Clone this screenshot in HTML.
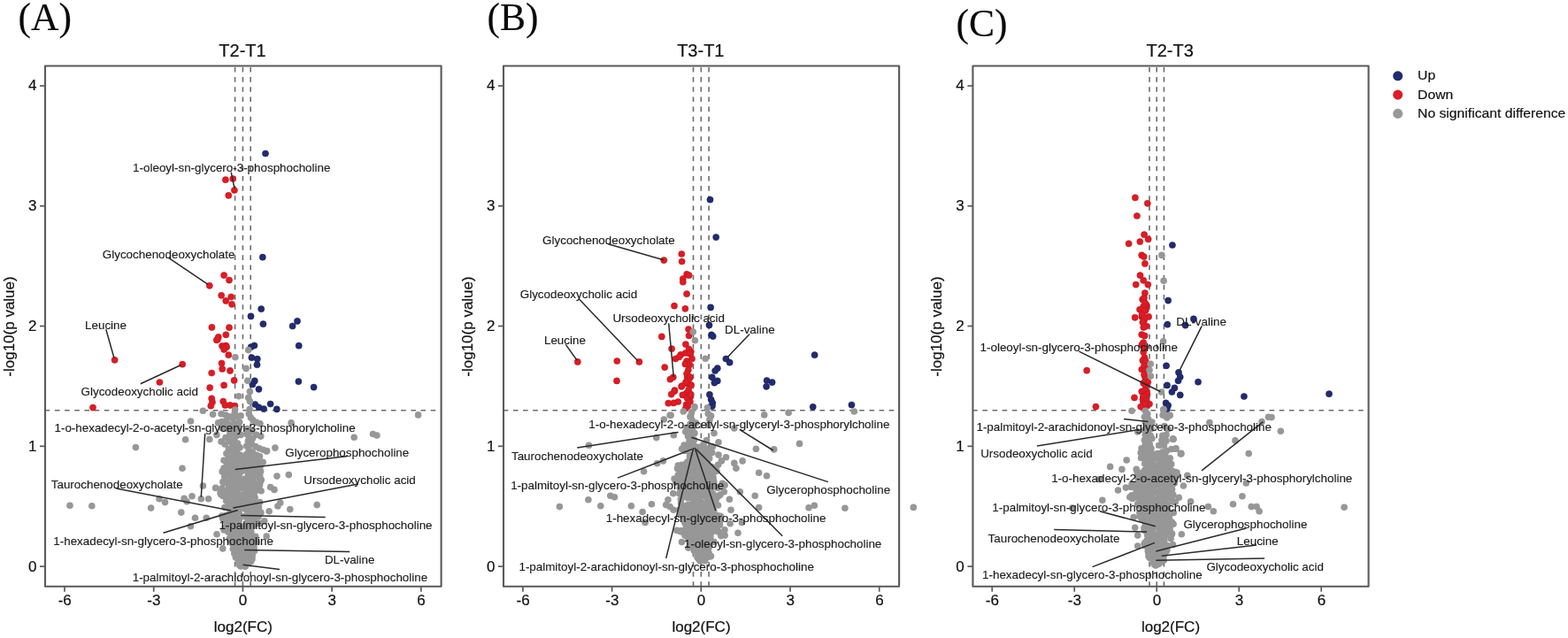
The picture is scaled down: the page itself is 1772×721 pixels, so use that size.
<!DOCTYPE html>
<html lang="en"><head><meta charset="utf-8"><title>Volcano plots</title>
<style>
html,body{margin:0;padding:0;background:#fff}
body{width:1772px;height:721px}
svg{display:block}
text{font-family:"Liberation Sans",sans-serif;fill:#1a1a1a;stroke:#1a1a1a;stroke-width:0.22px;stroke-linejoin:round}
.pl{font-family:"Liberation Serif",serif;font-size:43.5px;fill:#0a0a0a;stroke-width:0.15px}
.tt{font-size:20px;text-anchor:middle;fill:#111}
.ax{font-size:17px;text-anchor:middle;fill:#111}
.tk{font-size:17px;fill:#111}
.lb{font-size:13.4px;fill:#1c1c1c;stroke:#1c1c1c;stroke-width:0.14px}
.lg{font-size:15.7px;fill:#111}
.g circle{fill:#979797}.r circle{fill:#d81e26;stroke:#c70f1a;stroke-width:.5}.b circle{fill:#222c6e;stroke:#161e58;stroke-width:.5}
.d line{stroke:#6c6c6c;stroke-width:1.6;stroke-dasharray:5.6 5.58;fill:none}
.s line{stroke:#2a2a2a;stroke-width:1.5}
.fr{fill:none;stroke:#5a5a5a;stroke-width:2.1;stroke-linejoin:round}
.t line{stroke:#5a5a5a;stroke-width:1.7}
</style></head><body>
<svg width="1772" height="721" viewBox="0 0 1772 721" role="img" aria-label="Volcano plots T2-T1, T3-T1, T2-T3">
<rect width="1772" height="721" fill="#fff"/>
<g>
<text class="pl" x="20.6" y="34.4">(A)</text>
<text class="tt" x="274" y="63.9">T2-T1</text>
<g class="d">
<line x1="265.6" y1="75.9" x2="265.6" y2="662.7"/>
<line x1="274.4" y1="75.9" x2="274.4" y2="662.7"/>
<line x1="283.2" y1="75.9" x2="283.2" y2="662.7"/>
<line x1="50.7" y1="463.7" x2="498.6" y2="463.7"/>
</g>
<line x1="274.4" y1="476" x2="274.4" y2="612" stroke="#fff" stroke-width="2.4"/>
<g class="b">
<circle cx="300" cy="173.5" r="3.6"/><circle cx="296.8" cy="290.7" r="3.6"/><circle cx="295.2" cy="349.2" r="3.6"/><circle cx="283.5" cy="357.4" r="3.6"/><circle cx="297.4" cy="366.2" r="3.6"/><circle cx="336" cy="362.9" r="3.6"/><circle cx="330.6" cy="368.5" r="3.6"/><circle cx="287.4" cy="390.5" r="3.6"/><circle cx="283.7" cy="392.2" r="3.6"/><circle cx="337.7" cy="390.7" r="3.6"/><circle cx="284.4" cy="404.2" r="3.6"/><circle cx="290.8" cy="405.7" r="3.6"/><circle cx="290.5" cy="412.2" r="3.6"/><circle cx="287.8" cy="430.4" r="3.6"/><circle cx="285.4" cy="434.5" r="3.6"/><circle cx="292.5" cy="439.8" r="3.6"/><circle cx="337.4" cy="431.1" r="3.6"/><circle cx="354.6" cy="437.6" r="3.6"/><circle cx="288.3" cy="457" r="3.6"/><circle cx="292.5" cy="460.4" r="3.6"/><circle cx="298.1" cy="462.1" r="3.6"/><circle cx="305.6" cy="456.5" r="3.6"/><circle cx="312.8" cy="462.4" r="3.6"/>
</g>
<g class="r">
<circle cx="254.9" cy="203.2" r="3.6"/><circle cx="263.2" cy="202" r="3.6"/><circle cx="264.9" cy="215" r="3.6"/><circle cx="258.3" cy="220.9" r="3.6"/><circle cx="253.1" cy="311.1" r="3.6"/><circle cx="259" cy="316.6" r="3.6"/><circle cx="236.8" cy="322.8" r="3.6"/><circle cx="250.2" cy="333.8" r="3.6"/><circle cx="261.2" cy="335.5" r="3.6"/><circle cx="255.3" cy="339.9" r="3.6"/><circle cx="262" cy="343.8" r="3.6"/><circle cx="239.4" cy="369.9" r="3.6"/><circle cx="259" cy="370.2" r="3.6"/><circle cx="255.3" cy="378.3" r="3.6"/><circle cx="246.8" cy="380.9" r="3.6"/><circle cx="244.8" cy="384.3" r="3.6"/><circle cx="251" cy="391" r="3.6"/><circle cx="255.3" cy="390.5" r="3.6"/><circle cx="129.6" cy="406.8" r="3.6"/><circle cx="206.2" cy="411.7" r="3.6"/><circle cx="180.4" cy="432" r="3.6"/><circle cx="246" cy="383.4" r="3.6"/><circle cx="252.7" cy="391.9" r="3.6"/><circle cx="256.1" cy="392.2" r="3.6"/><circle cx="253.2" cy="394.9" r="3.6"/><circle cx="258.3" cy="401.2" r="3.6"/><circle cx="250.5" cy="410.5" r="3.6"/><circle cx="251.2" cy="416.9" r="3.6"/><circle cx="260" cy="418.9" r="3.6"/><circle cx="239.2" cy="421.5" r="3.6"/><circle cx="264.6" cy="429.9" r="3.6"/><circle cx="253.1" cy="435.4" r="3.6"/><circle cx="237.2" cy="438.1" r="3.6"/><circle cx="239.2" cy="450.3" r="3.6"/><circle cx="240" cy="454.5" r="3.6"/><circle cx="238.3" cy="458.7" r="3.6"/><circle cx="252.2" cy="453.6" r="3.6"/><circle cx="254.4" cy="457.9" r="3.6"/><circle cx="260" cy="457.9" r="3.6"/><circle cx="265.4" cy="458.7" r="3.6"/><circle cx="105" cy="460.6" r="3.6"/>
</g>
<g class="g">
<circle cx="259.5" cy="571.5" r="3.8"/><circle cx="284.9" cy="614.7" r="3.8"/><circle cx="281.5" cy="602.1" r="3.8"/><circle cx="275.4" cy="636.5" r="3.8"/><circle cx="259.5" cy="581.1" r="3.8"/><circle cx="265.4" cy="579.9" r="3.8"/><circle cx="262.8" cy="549.3" r="3.8"/><circle cx="276" cy="620.7" r="3.8"/><circle cx="283.1" cy="522.9" r="3.8"/><circle cx="275.6" cy="621.5" r="3.8"/><circle cx="273.6" cy="564.5" r="3.8"/><circle cx="264.2" cy="556.2" r="3.8"/><circle cx="253" cy="529" r="3.8"/><circle cx="270.8" cy="615.2" r="3.8"/><circle cx="275.4" cy="607" r="3.8"/><circle cx="270.5" cy="528.8" r="3.8"/><circle cx="276.5" cy="616" r="3.8"/><circle cx="287.6" cy="622.5" r="3.8"/><circle cx="283.7" cy="541.1" r="3.8"/><circle cx="253.2" cy="555.8" r="3.8"/><circle cx="264.4" cy="588" r="3.8"/><circle cx="277.9" cy="635.8" r="3.8"/><circle cx="285.4" cy="624" r="3.8"/><circle cx="281.7" cy="617.9" r="3.8"/><circle cx="279.6" cy="633.4" r="3.8"/><circle cx="293.7" cy="567.5" r="3.8"/><circle cx="263.4" cy="544.3" r="3.8"/><circle cx="279.5" cy="618.6" r="3.8"/><circle cx="289.5" cy="522.7" r="3.8"/><circle cx="278.8" cy="622.3" r="3.8"/><circle cx="271.1" cy="516.1" r="3.8"/><circle cx="280.5" cy="536.4" r="3.8"/><circle cx="278.9" cy="597.4" r="3.8"/><circle cx="293.6" cy="531.8" r="3.8"/><circle cx="265.1" cy="523.6" r="3.8"/><circle cx="278.5" cy="628.3" r="3.8"/><circle cx="249.7" cy="558.7" r="3.8"/><circle cx="280.1" cy="624.6" r="3.8"/><circle cx="262.8" cy="593.4" r="3.8"/><circle cx="292.1" cy="591.3" r="3.8"/><circle cx="283.7" cy="569.9" r="3.8"/><circle cx="276.5" cy="517.8" r="3.8"/><circle cx="287.9" cy="577.2" r="3.8"/><circle cx="269.9" cy="546.5" r="3.8"/><circle cx="267.2" cy="535.5" r="3.8"/><circle cx="268.3" cy="570.1" r="3.8"/><circle cx="265.9" cy="568.7" r="3.8"/><circle cx="274.3" cy="625.8" r="3.8"/><circle cx="274.4" cy="634.7" r="3.8"/><circle cx="264.1" cy="548.9" r="3.8"/><circle cx="263.8" cy="554.1" r="3.8"/><circle cx="289.4" cy="571.5" r="3.8"/><circle cx="267.7" cy="519.3" r="3.8"/><circle cx="291.5" cy="516.4" r="3.8"/><circle cx="279.3" cy="544.2" r="3.8"/><circle cx="281.3" cy="570.7" r="3.8"/><circle cx="270.5" cy="629.1" r="3.8"/><circle cx="261.3" cy="605.7" r="3.8"/><circle cx="255.8" cy="561.9" r="3.8"/><circle cx="268.4" cy="572.9" r="3.8"/><circle cx="255.2" cy="595.5" r="3.8"/><circle cx="272.4" cy="638.1" r="3.8"/><circle cx="274" cy="622.7" r="3.8"/><circle cx="292.1" cy="583.9" r="3.8"/><circle cx="288.4" cy="517.6" r="3.8"/><circle cx="277.1" cy="605.9" r="3.8"/><circle cx="277.8" cy="634.1" r="3.8"/><circle cx="267.6" cy="580.4" r="3.8"/><circle cx="283.1" cy="540.4" r="3.8"/><circle cx="259.4" cy="580.6" r="3.8"/><circle cx="269.5" cy="590.9" r="3.8"/><circle cx="260.2" cy="579.5" r="3.8"/><circle cx="269.2" cy="601.8" r="3.8"/><circle cx="270.6" cy="566.5" r="3.8"/><circle cx="283.8" cy="569.1" r="3.8"/><circle cx="259.3" cy="530.4" r="3.8"/><circle cx="264.1" cy="542.9" r="3.8"/><circle cx="285.2" cy="539.1" r="3.8"/><circle cx="276.1" cy="561.7" r="3.8"/><circle cx="277.7" cy="594.2" r="3.8"/><circle cx="276.5" cy="622.1" r="3.8"/><circle cx="289.8" cy="554.1" r="3.8"/><circle cx="278.6" cy="541.7" r="3.8"/><circle cx="285.3" cy="606.3" r="3.8"/><circle cx="267.4" cy="567.5" r="3.8"/><circle cx="277.8" cy="601" r="3.8"/><circle cx="275.2" cy="637" r="3.8"/><circle cx="257.7" cy="601.1" r="3.8"/><circle cx="262.1" cy="518.8" r="3.8"/><circle cx="258.5" cy="586.2" r="3.8"/><circle cx="285" cy="631.7" r="3.8"/><circle cx="259.3" cy="572.7" r="3.8"/><circle cx="281.4" cy="568.6" r="3.8"/><circle cx="276.8" cy="621.2" r="3.8"/><circle cx="262.5" cy="607.9" r="3.8"/><circle cx="258.2" cy="593.9" r="3.8"/><circle cx="289.7" cy="612.8" r="3.8"/><circle cx="276.4" cy="627.9" r="3.8"/><circle cx="264.6" cy="565.5" r="3.8"/><circle cx="253.9" cy="573.5" r="3.8"/><circle cx="285.5" cy="595.1" r="3.8"/><circle cx="267.1" cy="556.9" r="3.8"/><circle cx="261.4" cy="581.7" r="3.8"/><circle cx="262" cy="516.9" r="3.8"/><circle cx="258.6" cy="546.6" r="3.8"/><circle cx="283.3" cy="561.7" r="3.8"/><circle cx="264.1" cy="578.5" r="3.8"/><circle cx="275.1" cy="616.8" r="3.8"/><circle cx="274.1" cy="632.1" r="3.8"/><circle cx="283" cy="535.5" r="3.8"/><circle cx="266.2" cy="567.4" r="3.8"/><circle cx="278.2" cy="597.2" r="3.8"/><circle cx="264.3" cy="605" r="3.8"/><circle cx="257.2" cy="519.4" r="3.8"/><circle cx="284.2" cy="609" r="3.8"/><circle cx="271.1" cy="633.9" r="3.8"/><circle cx="276.4" cy="637.6" r="3.8"/><circle cx="283.4" cy="633" r="3.8"/><circle cx="269.7" cy="590.7" r="3.8"/><circle cx="273.1" cy="571.9" r="3.8"/><circle cx="283.6" cy="612.8" r="3.8"/><circle cx="281.2" cy="635" r="3.8"/><circle cx="284" cy="613.6" r="3.8"/><circle cx="260.3" cy="548.5" r="3.8"/><circle cx="268.5" cy="609.7" r="3.8"/><circle cx="270.1" cy="625.6" r="3.8"/><circle cx="273.9" cy="568" r="3.8"/><circle cx="267.2" cy="525" r="3.8"/><circle cx="264.2" cy="574.8" r="3.8"/><circle cx="261.3" cy="608.6" r="3.8"/><circle cx="276.5" cy="616.8" r="3.8"/><circle cx="283.9" cy="546.8" r="3.8"/><circle cx="282.3" cy="555.3" r="3.8"/><circle cx="266.9" cy="560.9" r="3.8"/><circle cx="258.2" cy="524" r="3.8"/><circle cx="259.2" cy="552" r="3.8"/><circle cx="267.7" cy="602.1" r="3.8"/><circle cx="281" cy="606.2" r="3.8"/><circle cx="281.1" cy="586.3" r="3.8"/><circle cx="271.3" cy="616" r="3.8"/><circle cx="282.3" cy="560.1" r="3.8"/><circle cx="253.7" cy="538.8" r="3.8"/><circle cx="266.9" cy="585.5" r="3.8"/><circle cx="275.9" cy="625.9" r="3.8"/><circle cx="260.8" cy="583.1" r="3.8"/><circle cx="258.8" cy="522.1" r="3.8"/><circle cx="277.9" cy="524.7" r="3.8"/><circle cx="269.9" cy="594.5" r="3.8"/><circle cx="259.4" cy="564.1" r="3.8"/><circle cx="255.7" cy="566.1" r="3.8"/><circle cx="286.3" cy="622.4" r="3.8"/><circle cx="257.1" cy="595.3" r="3.8"/><circle cx="281.3" cy="615.9" r="3.8"/><circle cx="272.1" cy="639.9" r="3.8"/><circle cx="285.8" cy="568" r="3.8"/><circle cx="281.4" cy="521.5" r="3.8"/><circle cx="268.6" cy="629.5" r="3.8"/><circle cx="267" cy="541.6" r="3.8"/><circle cx="285.8" cy="537.5" r="3.8"/><circle cx="268.4" cy="553.6" r="3.8"/><circle cx="280" cy="574.9" r="3.8"/><circle cx="266.9" cy="583.5" r="3.8"/><circle cx="261.6" cy="579.5" r="3.8"/><circle cx="276.9" cy="615.2" r="3.8"/><circle cx="277.7" cy="554.9" r="3.8"/><circle cx="270.2" cy="579.5" r="3.8"/><circle cx="289.2" cy="533.1" r="3.8"/><circle cx="269.6" cy="621.5" r="3.8"/><circle cx="283.5" cy="605" r="3.8"/><circle cx="287.4" cy="567" r="3.8"/><circle cx="266.3" cy="540.5" r="3.8"/><circle cx="293.9" cy="527.4" r="3.8"/><circle cx="268.8" cy="597" r="3.8"/><circle cx="275.1" cy="615.5" r="3.8"/><circle cx="269.9" cy="550.9" r="3.8"/><circle cx="281.3" cy="563.8" r="3.8"/><circle cx="286.4" cy="539.4" r="3.8"/><circle cx="270.2" cy="605.9" r="3.8"/><circle cx="282.7" cy="525.7" r="3.8"/><circle cx="279.1" cy="604" r="3.8"/><circle cx="256.4" cy="525.4" r="3.8"/><circle cx="260" cy="565.7" r="3.8"/><circle cx="267.8" cy="556.1" r="3.8"/><circle cx="262.4" cy="614.3" r="3.8"/><circle cx="267.5" cy="578.7" r="3.8"/><circle cx="282.2" cy="591.7" r="3.8"/><circle cx="282.4" cy="558.8" r="3.8"/><circle cx="273.3" cy="639.3" r="3.8"/><circle cx="272.6" cy="620.1" r="3.8"/><circle cx="269.2" cy="524.6" r="3.8"/><circle cx="267.1" cy="602.5" r="3.8"/><circle cx="293.4" cy="529.8" r="3.8"/><circle cx="280.5" cy="583" r="3.8"/><circle cx="278.9" cy="547.6" r="3.8"/><circle cx="260.7" cy="529.6" r="3.8"/><circle cx="277.1" cy="627.9" r="3.8"/><circle cx="257" cy="583.6" r="3.8"/><circle cx="267.3" cy="597.6" r="3.8"/><circle cx="274.3" cy="607.7" r="3.8"/><circle cx="270" cy="573.4" r="3.8"/><circle cx="270.7" cy="586.3" r="3.8"/><circle cx="280.5" cy="556.2" r="3.8"/><circle cx="287.8" cy="532.4" r="3.8"/><circle cx="265.1" cy="573.7" r="3.8"/><circle cx="262.6" cy="609.5" r="3.8"/><circle cx="268.4" cy="620.5" r="3.8"/><circle cx="278.1" cy="629" r="3.8"/><circle cx="288" cy="568.9" r="3.8"/><circle cx="278.2" cy="628.3" r="3.8"/><circle cx="277.6" cy="609.5" r="3.8"/><circle cx="274.2" cy="570.8" r="3.8"/><circle cx="270.1" cy="602.3" r="3.8"/><circle cx="283.2" cy="544" r="3.8"/><circle cx="269.9" cy="636.7" r="3.8"/><circle cx="282.4" cy="542.2" r="3.8"/><circle cx="279.9" cy="628.7" r="3.8"/><circle cx="278.6" cy="634.8" r="3.8"/><circle cx="291.3" cy="552" r="3.8"/><circle cx="273.4" cy="617.6" r="3.8"/><circle cx="274.7" cy="628.1" r="3.8"/><circle cx="291.7" cy="574" r="3.8"/><circle cx="262.8" cy="538.8" r="3.8"/><circle cx="278.8" cy="574" r="3.8"/><circle cx="272.1" cy="594.3" r="3.8"/><circle cx="291.7" cy="527.5" r="3.8"/><circle cx="263.8" cy="604.6" r="3.8"/><circle cx="270" cy="633.1" r="3.8"/><circle cx="257.6" cy="553" r="3.8"/><circle cx="262.2" cy="543.9" r="3.8"/><circle cx="281" cy="626.3" r="3.8"/><circle cx="270.1" cy="552.2" r="3.8"/><circle cx="289.3" cy="525.4" r="3.8"/><circle cx="262.9" cy="545.9" r="3.8"/><circle cx="269.7" cy="610" r="3.8"/><circle cx="276.7" cy="632" r="3.8"/><circle cx="268.7" cy="621.4" r="3.8"/><circle cx="277.9" cy="634.8" r="3.8"/><circle cx="285.8" cy="543.9" r="3.8"/><circle cx="269.9" cy="613.9" r="3.8"/><circle cx="256.3" cy="586.7" r="3.8"/><circle cx="292.2" cy="547.4" r="3.8"/><circle cx="280.4" cy="519.4" r="3.8"/><circle cx="288.1" cy="580.7" r="3.8"/><circle cx="282.8" cy="535.8" r="3.8"/><circle cx="272.9" cy="619.5" r="3.8"/><circle cx="282.6" cy="560.3" r="3.8"/><circle cx="280.4" cy="519.3" r="3.8"/><circle cx="259.6" cy="571.8" r="3.8"/><circle cx="275.2" cy="627" r="3.8"/><circle cx="250.7" cy="551.9" r="3.8"/><circle cx="268.4" cy="607.2" r="3.8"/><circle cx="269.3" cy="572.6" r="3.8"/><circle cx="282.8" cy="556.8" r="3.8"/><circle cx="270.2" cy="623.8" r="3.8"/><circle cx="276.7" cy="621.1" r="3.8"/><circle cx="275.7" cy="541.4" r="3.8"/><circle cx="269.2" cy="539.9" r="3.8"/><circle cx="281.1" cy="623.6" r="3.8"/><circle cx="274" cy="523.2" r="3.8"/><circle cx="293.6" cy="548.1" r="3.8"/><circle cx="271.2" cy="611.9" r="3.8"/><circle cx="277.7" cy="544.3" r="3.8"/><circle cx="283.5" cy="553.7" r="3.8"/><circle cx="285.6" cy="547.1" r="3.8"/><circle cx="271.3" cy="532.7" r="3.8"/><circle cx="261.7" cy="563.1" r="3.8"/><circle cx="294" cy="541.5" r="3.8"/><circle cx="269.7" cy="543.8" r="3.8"/><circle cx="266.2" cy="563.8" r="3.8"/><circle cx="278.3" cy="555.7" r="3.8"/><circle cx="280.7" cy="574.4" r="3.8"/><circle cx="267.7" cy="544.5" r="3.8"/><circle cx="284.2" cy="516.9" r="3.8"/><circle cx="278.6" cy="520.9" r="3.8"/><circle cx="281.4" cy="573.6" r="3.8"/><circle cx="276.2" cy="627.3" r="3.8"/><circle cx="255.7" cy="598.8" r="3.8"/><circle cx="254.9" cy="560.1" r="3.8"/><circle cx="268.4" cy="612" r="3.8"/><circle cx="275.7" cy="629.5" r="3.8"/><circle cx="274.6" cy="600.4" r="3.8"/><circle cx="277.7" cy="564" r="3.8"/><circle cx="256.1" cy="596.6" r="3.8"/><circle cx="272.8" cy="637" r="3.8"/><circle cx="272.8" cy="626.6" r="3.8"/><circle cx="258.3" cy="534.3" r="3.8"/><circle cx="273.7" cy="545.7" r="3.8"/><circle cx="284.1" cy="522" r="3.8"/><circle cx="260.8" cy="528.3" r="3.8"/><circle cx="269" cy="578.4" r="3.8"/><circle cx="270.1" cy="604.9" r="3.8"/><circle cx="280" cy="610.4" r="3.8"/><circle cx="258.2" cy="586.1" r="3.8"/><circle cx="266.4" cy="615.8" r="3.8"/><circle cx="253.1" cy="599" r="3.8"/><circle cx="282.1" cy="588.4" r="3.8"/><circle cx="284" cy="567.3" r="3.8"/><circle cx="253" cy="520.2" r="3.8"/><circle cx="279.7" cy="550.3" r="3.8"/><circle cx="280.9" cy="517.4" r="3.8"/><circle cx="276.8" cy="561.4" r="3.8"/><circle cx="264.8" cy="563.7" r="3.8"/><circle cx="270.5" cy="638.6" r="3.8"/><circle cx="294.6" cy="532.7" r="3.8"/><circle cx="264.7" cy="545.9" r="3.8"/><circle cx="280.2" cy="516.4" r="3.8"/><circle cx="267.4" cy="548.8" r="3.8"/><circle cx="251.8" cy="560.5" r="3.8"/><circle cx="268.2" cy="627.4" r="3.8"/><circle cx="279.9" cy="575.4" r="3.8"/><circle cx="263" cy="566.7" r="3.8"/><circle cx="268.3" cy="521.3" r="3.8"/><circle cx="272.9" cy="633.2" r="3.8"/><circle cx="273" cy="570.3" r="3.8"/><circle cx="259" cy="553.4" r="3.8"/><circle cx="277.4" cy="635.8" r="3.8"/><circle cx="261.1" cy="607.4" r="3.8"/><circle cx="287.1" cy="619.1" r="3.8"/><circle cx="287.4" cy="565.1" r="3.8"/><circle cx="276.2" cy="629.5" r="3.8"/><circle cx="282.6" cy="560.9" r="3.8"/><circle cx="268.1" cy="560.3" r="3.8"/><circle cx="295.1" cy="554.8" r="3.8"/><circle cx="263" cy="608.2" r="3.8"/><circle cx="266.5" cy="536.5" r="3.8"/><circle cx="267.4" cy="568.7" r="3.8"/><circle cx="278.9" cy="565.2" r="3.8"/><circle cx="274.4" cy="625.8" r="3.8"/><circle cx="281.5" cy="527.8" r="3.8"/><circle cx="261.4" cy="565.8" r="3.8"/><circle cx="269.2" cy="532.8" r="3.8"/><circle cx="266.9" cy="592.3" r="3.8"/><circle cx="286" cy="593.8" r="3.8"/><circle cx="283.8" cy="601.6" r="3.8"/><circle cx="260.9" cy="567.3" r="3.8"/><circle cx="263.4" cy="579.4" r="3.8"/><circle cx="271.5" cy="624.2" r="3.8"/><circle cx="275.6" cy="620.7" r="3.8"/><circle cx="277.4" cy="619.3" r="3.8"/><circle cx="275.4" cy="624.5" r="3.8"/><circle cx="277.7" cy="616.5" r="3.8"/><circle cx="266.4" cy="576.3" r="3.8"/><circle cx="283.8" cy="622.6" r="3.8"/><circle cx="251.6" cy="533.3" r="3.8"/><circle cx="261.8" cy="557.9" r="3.8"/><circle cx="282.8" cy="528.9" r="3.8"/><circle cx="269.8" cy="628.5" r="3.8"/><circle cx="265" cy="568.7" r="3.8"/><circle cx="259.6" cy="554" r="3.8"/><circle cx="263.6" cy="536.9" r="3.8"/><circle cx="292.5" cy="573.2" r="3.8"/><circle cx="293.5" cy="591.5" r="3.8"/><circle cx="269.8" cy="601.8" r="3.8"/><circle cx="284.1" cy="532.6" r="3.8"/><circle cx="274.5" cy="618.2" r="3.8"/><circle cx="264.8" cy="558" r="3.8"/><circle cx="273.4" cy="624.8" r="3.8"/><circle cx="261.6" cy="599.9" r="3.8"/><circle cx="268.6" cy="590.4" r="3.8"/><circle cx="284.2" cy="549.7" r="3.8"/><circle cx="273.1" cy="551.2" r="3.8"/><circle cx="280.8" cy="627.7" r="3.8"/><circle cx="261.2" cy="557.4" r="3.8"/><circle cx="267.7" cy="526.6" r="3.8"/><circle cx="265.1" cy="561.6" r="3.8"/><circle cx="287.2" cy="557.7" r="3.8"/><circle cx="268.5" cy="599.2" r="3.8"/><circle cx="261" cy="564.2" r="3.8"/><circle cx="268.4" cy="540.6" r="3.8"/><circle cx="279" cy="608.2" r="3.8"/><circle cx="266.6" cy="593.1" r="3.8"/><circle cx="280.2" cy="617" r="3.8"/><circle cx="282.5" cy="517.1" r="3.8"/><circle cx="267.6" cy="581.8" r="3.8"/><circle cx="254.3" cy="529.8" r="3.8"/><circle cx="283.5" cy="579" r="3.8"/><circle cx="259.7" cy="545.3" r="3.8"/><circle cx="269.7" cy="533.7" r="3.8"/><circle cx="282.7" cy="565.6" r="3.8"/><circle cx="277.3" cy="604.5" r="3.8"/><circle cx="263.3" cy="519.9" r="3.8"/><circle cx="258.5" cy="528.2" r="3.8"/><circle cx="265.1" cy="552" r="3.8"/><circle cx="280" cy="574.6" r="3.8"/><circle cx="283.8" cy="571.3" r="3.8"/><circle cx="276.5" cy="583.5" r="3.8"/><circle cx="291.4" cy="515.1" r="3.8"/><circle cx="265.4" cy="514.9" r="3.8"/><circle cx="282.9" cy="560.8" r="3.8"/><circle cx="255.5" cy="588.9" r="3.8"/><circle cx="270.4" cy="615" r="3.8"/><circle cx="277" cy="600.3" r="3.8"/><circle cx="279.7" cy="619.6" r="3.8"/><circle cx="257.3" cy="595.6" r="3.8"/><circle cx="288" cy="520.1" r="3.8"/><circle cx="281.9" cy="609.6" r="3.8"/><circle cx="265.4" cy="567.1" r="3.8"/><circle cx="267.9" cy="630.4" r="3.8"/><circle cx="278.7" cy="562" r="3.8"/><circle cx="278.9" cy="529" r="3.8"/><circle cx="276.6" cy="619.9" r="3.8"/><circle cx="287.3" cy="528.4" r="3.8"/><circle cx="273.7" cy="631.1" r="3.8"/><circle cx="288.9" cy="582.1" r="3.8"/><circle cx="260.4" cy="574" r="3.8"/><circle cx="280.4" cy="631.9" r="3.8"/><circle cx="283.6" cy="563.3" r="3.8"/><circle cx="270" cy="535.1" r="3.8"/><circle cx="277.6" cy="558.4" r="3.8"/><circle cx="263.4" cy="563.3" r="3.8"/><circle cx="282.6" cy="575" r="3.8"/><circle cx="260.6" cy="522.2" r="3.8"/><circle cx="265.4" cy="605" r="3.8"/><circle cx="276.5" cy="629.5" r="3.8"/><circle cx="292" cy="527" r="3.8"/><circle cx="265.6" cy="518.5" r="3.8"/><circle cx="270.7" cy="533.2" r="3.8"/><circle cx="275.8" cy="616.3" r="3.8"/><circle cx="283.9" cy="581.9" r="3.8"/><circle cx="267" cy="560.2" r="3.8"/><circle cx="288.8" cy="606.3" r="3.8"/><circle cx="272.4" cy="516.6" r="3.8"/><circle cx="279.5" cy="575.6" r="3.8"/><circle cx="284.1" cy="549.3" r="3.8"/><circle cx="284.8" cy="622.6" r="3.8"/><circle cx="285.5" cy="607.2" r="3.8"/><circle cx="264" cy="547" r="3.8"/><circle cx="262.6" cy="560.1" r="3.8"/><circle cx="274.4" cy="634.6" r="3.8"/><circle cx="273.9" cy="628.5" r="3.8"/><circle cx="269.5" cy="601" r="3.8"/><circle cx="261" cy="577.4" r="3.8"/><circle cx="280.4" cy="524" r="3.8"/><circle cx="272.4" cy="637.5" r="3.8"/><circle cx="268.6" cy="556.6" r="3.8"/><circle cx="281" cy="631.5" r="3.8"/><circle cx="276.6" cy="632.5" r="3.8"/><circle cx="273.4" cy="528.2" r="3.8"/><circle cx="260.9" cy="518.1" r="3.8"/><circle cx="260.3" cy="610.2" r="3.8"/><circle cx="274.3" cy="619.8" r="3.8"/><circle cx="286.4" cy="556.6" r="3.8"/><circle cx="256.6" cy="543.8" r="3.8"/><circle cx="269.1" cy="546.2" r="3.8"/><circle cx="278.4" cy="597.1" r="3.8"/><circle cx="260.3" cy="546.4" r="3.8"/><circle cx="264.1" cy="552.3" r="3.8"/><circle cx="255.3" cy="582.6" r="3.8"/><circle cx="283.3" cy="545" r="3.8"/><circle cx="263.9" cy="531.2" r="3.8"/><circle cx="288.1" cy="562.2" r="3.8"/><circle cx="282.8" cy="608.2" r="3.8"/><circle cx="273.3" cy="562.3" r="3.8"/><circle cx="282.3" cy="540.1" r="3.8"/><circle cx="273.7" cy="632.2" r="3.8"/><circle cx="278.5" cy="634.1" r="3.8"/><circle cx="270.6" cy="626.1" r="3.8"/><circle cx="277" cy="529.3" r="3.8"/><circle cx="264.3" cy="537.5" r="3.8"/><circle cx="260.1" cy="537.2" r="3.8"/><circle cx="272" cy="610.8" r="3.8"/><circle cx="265.2" cy="524.3" r="3.8"/><circle cx="263.6" cy="578" r="3.8"/><circle cx="268.1" cy="572.4" r="3.8"/><circle cx="256.7" cy="564.9" r="3.8"/><circle cx="264.3" cy="607.5" r="3.8"/><circle cx="274.6" cy="615.5" r="3.8"/><circle cx="262.6" cy="573.1" r="3.8"/><circle cx="266.4" cy="519.3" r="3.8"/><circle cx="280.2" cy="593.2" r="3.8"/><circle cx="269.9" cy="626.3" r="3.8"/><circle cx="275.7" cy="622.3" r="3.8"/><circle cx="277.4" cy="639" r="3.8"/><circle cx="294.4" cy="543.9" r="3.8"/><circle cx="265" cy="550.1" r="3.8"/><circle cx="282.7" cy="577.1" r="3.8"/><circle cx="285.5" cy="572.7" r="3.8"/><circle cx="269.5" cy="575.2" r="3.8"/><circle cx="285.6" cy="524.7" r="3.8"/><circle cx="281" cy="619.3" r="3.8"/><circle cx="264.8" cy="568.1" r="3.8"/><circle cx="278.4" cy="576.2" r="3.8"/><circle cx="261.9" cy="557.5" r="3.8"/><circle cx="283.1" cy="619.9" r="3.8"/><circle cx="269.9" cy="615.3" r="3.8"/><circle cx="281.8" cy="516.9" r="3.8"/><circle cx="283.4" cy="614.6" r="3.8"/><circle cx="297.2" cy="522.2" r="3.8"/><circle cx="280.1" cy="624.7" r="3.8"/><circle cx="266.6" cy="593.1" r="3.8"/><circle cx="279.2" cy="521.4" r="3.8"/><circle cx="251.8" cy="586.3" r="3.8"/><circle cx="280.9" cy="633.7" r="3.8"/><circle cx="266.3" cy="629.8" r="3.8"/><circle cx="262.4" cy="612.3" r="3.8"/><circle cx="288.5" cy="580.4" r="3.8"/><circle cx="251.9" cy="544.6" r="3.8"/><circle cx="279.4" cy="559.1" r="3.8"/><circle cx="286.2" cy="529.5" r="3.8"/><circle cx="288.6" cy="610.8" r="3.8"/><circle cx="264.4" cy="545.9" r="3.8"/><circle cx="267.2" cy="611.4" r="3.8"/><circle cx="270.6" cy="521.1" r="3.8"/><circle cx="261.3" cy="568.1" r="3.8"/><circle cx="271.8" cy="530.3" r="3.8"/><circle cx="295.1" cy="523.3" r="3.8"/><circle cx="284.1" cy="622.2" r="3.8"/><circle cx="263.3" cy="554.1" r="3.8"/><circle cx="264.2" cy="542.1" r="3.8"/><circle cx="278.3" cy="626.7" r="3.8"/><circle cx="265" cy="603.9" r="3.8"/><circle cx="280.1" cy="612.1" r="3.8"/><circle cx="264.2" cy="561.8" r="3.8"/><circle cx="274.4" cy="613.8" r="3.8"/><circle cx="264.7" cy="597.3" r="3.8"/><circle cx="266.1" cy="597" r="3.8"/><circle cx="268.5" cy="557.4" r="3.8"/><circle cx="275.7" cy="611.3" r="3.8"/><circle cx="277.1" cy="640.2" r="3.8"/><circle cx="279.9" cy="521.6" r="3.8"/><circle cx="263.6" cy="589" r="3.8"/><circle cx="271.4" cy="608.8" r="3.8"/><circle cx="260.6" cy="531.3" r="3.8"/><circle cx="266.4" cy="548.9" r="3.8"/><circle cx="277.9" cy="616.4" r="3.8"/><circle cx="260.7" cy="572.5" r="3.8"/><circle cx="263" cy="558.8" r="3.8"/><circle cx="268" cy="601.9" r="3.8"/><circle cx="266.4" cy="559.5" r="3.8"/><circle cx="277.5" cy="597.5" r="3.8"/><circle cx="253.4" cy="545.7" r="3.8"/><circle cx="264.6" cy="614.8" r="3.8"/><circle cx="277.5" cy="603.3" r="3.8"/><circle cx="266.6" cy="574.2" r="3.8"/><circle cx="279.5" cy="617.2" r="3.8"/><circle cx="295.3" cy="542.3" r="3.8"/><circle cx="272.4" cy="630.2" r="3.8"/><circle cx="277.5" cy="603.7" r="3.8"/><circle cx="266.8" cy="560.3" r="3.8"/><circle cx="290.5" cy="520" r="3.8"/><circle cx="250.7" cy="583" r="3.8"/><circle cx="274.8" cy="558.8" r="3.8"/><circle cx="264.1" cy="516.7" r="3.8"/><circle cx="267.6" cy="550.7" r="3.8"/><circle cx="263.8" cy="551.1" r="3.8"/><circle cx="287.2" cy="589.2" r="3.8"/><circle cx="271.1" cy="609.8" r="3.8"/><circle cx="260.4" cy="566.5" r="3.8"/><circle cx="288.1" cy="516.8" r="3.8"/><circle cx="288" cy="592.8" r="3.8"/><circle cx="263.3" cy="620.2" r="3.8"/><circle cx="259.3" cy="608.6" r="3.8"/><circle cx="271.4" cy="620.1" r="3.8"/><circle cx="272.8" cy="637.3" r="3.8"/><circle cx="294.7" cy="579.6" r="3.8"/><circle cx="293.5" cy="515.7" r="3.8"/><circle cx="281.7" cy="595.2" r="3.8"/><circle cx="271.5" cy="610.8" r="3.8"/><circle cx="270.2" cy="536" r="3.8"/><circle cx="265.3" cy="570.8" r="3.8"/><circle cx="259.4" cy="587.4" r="3.8"/><circle cx="283.3" cy="597.4" r="3.8"/><circle cx="284.5" cy="556.4" r="3.8"/><circle cx="282" cy="547.3" r="3.8"/><circle cx="283.9" cy="610.3" r="3.8"/><circle cx="257.8" cy="531.8" r="3.8"/><circle cx="270.6" cy="574.1" r="3.8"/><circle cx="293.7" cy="537.4" r="3.8"/><circle cx="269.2" cy="632.8" r="3.8"/><circle cx="286.5" cy="544.5" r="3.8"/><circle cx="262.3" cy="599.7" r="3.8"/><circle cx="288.4" cy="550.8" r="3.8"/><circle cx="270.5" cy="593.7" r="3.8"/><circle cx="261.9" cy="576.7" r="3.8"/><circle cx="283.2" cy="520.2" r="3.8"/><circle cx="276.6" cy="561.1" r="3.8"/><circle cx="267.2" cy="630.2" r="3.8"/><circle cx="281.9" cy="585.8" r="3.8"/><circle cx="259.6" cy="523.9" r="3.8"/><circle cx="284.7" cy="610.7" r="3.8"/><circle cx="251.2" cy="532.8" r="3.8"/><circle cx="264.8" cy="625.4" r="3.8"/><circle cx="278.2" cy="621.5" r="3.8"/><circle cx="258.6" cy="550.4" r="3.8"/><circle cx="275.1" cy="574.2" r="3.8"/><circle cx="279.9" cy="626.7" r="3.8"/><circle cx="266.3" cy="582.8" r="3.8"/><circle cx="275.3" cy="603.9" r="3.8"/><circle cx="270.2" cy="608" r="3.8"/><circle cx="285.2" cy="628" r="3.8"/><circle cx="273.7" cy="532.3" r="3.8"/><circle cx="282.8" cy="538.3" r="3.8"/><circle cx="274.5" cy="639.3" r="3.8"/><circle cx="272" cy="621.8" r="3.8"/><circle cx="249" cy="557.1" r="3.8"/><circle cx="270.2" cy="543.5" r="3.8"/><circle cx="265.3" cy="567.5" r="3.8"/><circle cx="285.1" cy="572.8" r="3.8"/><circle cx="279.9" cy="636.8" r="3.8"/><circle cx="280.8" cy="534.6" r="3.8"/><circle cx="286.8" cy="586.7" r="3.8"/><circle cx="269.9" cy="600.8" r="3.8"/><circle cx="275.7" cy="595.5" r="3.8"/><circle cx="283.9" cy="534.5" r="3.8"/><circle cx="279.8" cy="618.7" r="3.8"/><circle cx="281.4" cy="606.5" r="3.8"/><circle cx="280" cy="587.9" r="3.8"/><circle cx="273.6" cy="612.3" r="3.8"/><circle cx="259.1" cy="574.5" r="3.8"/><circle cx="261.7" cy="575.5" r="3.8"/><circle cx="267.6" cy="559.4" r="3.8"/><circle cx="257.7" cy="524.1" r="3.8"/><circle cx="263.7" cy="567.8" r="3.8"/><circle cx="275.3" cy="560.7" r="3.8"/><circle cx="267.1" cy="626.5" r="3.8"/><circle cx="279.5" cy="627.1" r="3.8"/><circle cx="281.2" cy="541.2" r="3.8"/><circle cx="267.1" cy="519.7" r="3.8"/><circle cx="293.5" cy="540.5" r="3.8"/><circle cx="283.6" cy="634.5" r="3.8"/><circle cx="250" cy="467.7" r="3.8"/><circle cx="255" cy="469" r="3.8"/><circle cx="259.3" cy="470.7" r="3.8"/><circle cx="265.6" cy="463" r="3.8"/><circle cx="265.2" cy="466.9" r="3.8"/><circle cx="267.7" cy="470.7" r="3.8"/><circle cx="272" cy="469.8" r="3.8"/><circle cx="263.1" cy="473.2" r="3.8"/><circle cx="246.6" cy="477.9" r="3.8"/><circle cx="250.8" cy="476.6" r="3.8"/><circle cx="255.5" cy="475.7" r="3.8"/><circle cx="258.4" cy="479.6" r="3.8"/><circle cx="266" cy="478.7" r="3.8"/><circle cx="270.7" cy="477" r="3.8"/><circle cx="269" cy="481.2" r="3.8"/><circle cx="252.5" cy="482.1" r="3.8"/><circle cx="250.8" cy="483.8" r="3.8"/><circle cx="257.6" cy="484.6" r="3.8"/><circle cx="263.5" cy="484.6" r="3.8"/><circle cx="269.4" cy="486.3" r="3.8"/><circle cx="260.1" cy="488.9" r="3.8"/><circle cx="266" cy="489.7" r="3.8"/><circle cx="259.3" cy="492.3" r="3.8"/><circle cx="266.9" cy="493.1" r="3.8"/><circle cx="272" cy="491.4" r="3.8"/><circle cx="250" cy="499" r="3.8"/><circle cx="254.2" cy="502" r="3.8"/><circle cx="259.3" cy="499" r="3.8"/><circle cx="264.4" cy="497.3" r="3.8"/><circle cx="268.6" cy="501.1" r="3.8"/><circle cx="262.7" cy="504.1" r="3.8"/><circle cx="258.4" cy="507.5" r="3.8"/><circle cx="255.9" cy="512.6" r="3.8"/><circle cx="266.9" cy="506.7" r="3.8"/><circle cx="271.1" cy="505.8" r="3.8"/><circle cx="262.7" cy="510.9" r="3.8"/><circle cx="268.6" cy="512.6" r="3.8"/><circle cx="271.6" cy="514.3" r="3.8"/><circle cx="255" cy="494.5" r="3.8"/><circle cx="263" cy="480.5" r="3.8"/><circle cx="282.1" cy="462.6" r="3.8"/><circle cx="281.3" cy="467.7" r="3.8"/><circle cx="283.4" cy="471.9" r="3.8"/><circle cx="285.9" cy="474.9" r="3.8"/><circle cx="289.8" cy="477.4" r="3.8"/><circle cx="294" cy="478.7" r="3.8"/><circle cx="278.7" cy="490.6" r="3.8"/><circle cx="281.3" cy="493.5" r="3.8"/><circle cx="289.8" cy="491.4" r="3.8"/><circle cx="294.8" cy="493.1" r="3.8"/><circle cx="280.4" cy="498.2" r="3.8"/><circle cx="284.7" cy="502" r="3.8"/><circle cx="288.9" cy="504.5" r="3.8"/><circle cx="293.1" cy="506.7" r="3.8"/><circle cx="297.4" cy="508.3" r="3.8"/><circle cx="301.6" cy="509.6" r="3.8"/><circle cx="278.7" cy="504.1" r="3.8"/><circle cx="281.3" cy="508.3" r="3.8"/><circle cx="285.5" cy="510.9" r="3.8"/><circle cx="278.7" cy="513.4" r="3.8"/><circle cx="288.9" cy="514.3" r="3.8"/><circle cx="279.5" cy="484.5" r="3.8"/><circle cx="284.5" cy="487.5" r="3.8"/><circle cx="285.5" cy="495.5" r="3.8"/><circle cx="236.8" cy="496.5" r="3.8"/><circle cx="244.9" cy="491.4" r="3.8"/><circle cx="329.1" cy="477.9" r="3.8"/><circle cx="472.6" cy="468.9" r="3.8"/><circle cx="421.5" cy="490.5" r="3.8"/><circle cx="425.9" cy="492" r="3.8"/><circle cx="400.2" cy="494.3" r="3.8"/><circle cx="153.4" cy="505.6" r="3.8"/><circle cx="209.6" cy="496.7" r="3.8"/><circle cx="215.5" cy="476" r="3.8"/><circle cx="229.4" cy="464.2" r="3.8"/><circle cx="240.6" cy="468.3" r="3.8"/><circle cx="206" cy="529.2" r="3.8"/><circle cx="310.9" cy="506.1" r="3.8"/><circle cx="301.2" cy="510" r="3.8"/><circle cx="326.3" cy="536.6" r="3.8"/><circle cx="313" cy="538.1" r="3.8"/><circle cx="79" cy="571.2" r="3.8"/><circle cx="103.8" cy="571.7" r="3.8"/><circle cx="170.6" cy="574.1" r="3.8"/><circle cx="180" cy="563.8" r="3.8"/><circle cx="186.5" cy="567.6" r="3.8"/><circle cx="204.8" cy="579.1" r="3.8"/><circle cx="208.1" cy="563.2" r="3.8"/><circle cx="211.1" cy="566.7" r="3.8"/><circle cx="217" cy="560.8" r="3.8"/><circle cx="227.3" cy="563.8" r="3.8"/><circle cx="235.6" cy="563.8" r="3.8"/><circle cx="229.4" cy="549" r="3.8"/><circle cx="243.6" cy="551.4" r="3.8"/><circle cx="220.5" cy="585.3" r="3.8"/><circle cx="215.5" cy="594.8" r="3.8"/><circle cx="233.2" cy="585.3" r="3.8"/><circle cx="358.2" cy="570.6" r="3.8"/><circle cx="327.8" cy="575.6" r="3.8"/><circle cx="316.8" cy="568.2" r="3.8"/><circle cx="313.9" cy="572" r="3.8"/><circle cx="304.1" cy="577.7" r="3.8"/><circle cx="294.7" cy="579.1" r="3.8"/><circle cx="305.6" cy="550.5" r="3.8"/><circle cx="310" cy="553.4" r="3.8"/><circle cx="301.2" cy="606" r="3.8"/><circle cx="251.8" cy="619.9" r="3.8"/><circle cx="298.8" cy="588.9" r="3.8"/><circle cx="245" cy="603.7" r="3.8"/><circle cx="280.7" cy="395.6" r="3.8"/><circle cx="265.9" cy="403.7" r="3.8"/><circle cx="278.1" cy="416.4" r="3.8"/><circle cx="279.8" cy="430.3" r="3.8"/><circle cx="282.4" cy="442.6" r="3.8"/><circle cx="269.7" cy="447.7" r="3.8"/><circle cx="280.7" cy="449.4" r="3.8"/><circle cx="282.4" cy="453.6" r="3.8"/>
</g>
<g class="s">
<line x1="261.2" y1="194.7" x2="264.9" y2="212.5"/>
<line x1="190.1" y1="291.2" x2="235" y2="321.3"/>
<line x1="119.8" y1="372.3" x2="129" y2="404.8"/>
<line x1="158.8" y1="433.8" x2="204.5" y2="412.5"/>
<line x1="231.7" y1="489.9" x2="227.3" y2="561.7"/>
<line x1="392.8" y1="515.6" x2="265.7" y2="530.4"/>
<line x1="404.6" y1="546.9" x2="263.4" y2="574.1"/>
<line x1="131.3" y1="552" x2="261.3" y2="577.1"/>
<line x1="367.7" y1="584.5" x2="272.2" y2="582.4"/>
<line x1="184.5" y1="602.2" x2="268.7" y2="576.5"/>
<line x1="395.2" y1="623.5" x2="276.1" y2="621.4"/>
<line x1="316" y1="643.6" x2="274.6" y2="638.2"/>
</g>
<text class="lb" x="150.12" y="193.9">1-oleoyl-sn-glycero-3-phosphocholine</text>
<text class="lb" x="115.82" y="292">Glycochenodeoxycholate</text>
<text class="lb" x="96.07" y="372.3">Leucine</text>
<text class="lb" x="91.57" y="446.9">Glycodeoxycholic acid</text>
<text class="lb" x="61.51" y="487.8">1-o-hexadecyl-2-o-acetyl-sn-glyceryl-3-phosphorylcholine</text>
<text class="lb" x="322.3" y="515.6">Glycerophosphocholine</text>
<text class="lb" x="343.26" y="546.6">Ursodeoxycholic acid</text>
<text class="lb" x="57.78" y="552.3">Taurochenodeoxycholate</text>
<text class="lb" x="247.4" y="598.1">1-palmitoyl-sn-glycero-3-phosphocholine</text>
<text class="lb" x="60.32" y="616.1">1-hexadecyl-sn-glycero-3-phosphocholine</text>
<text class="lb" x="366.89" y="636.8">DL-valine</text>
<text class="lb" x="149.7" y="656.6">1-palmitoyl-2-arachidonoyl-sn-glycero-3-phosphocholine</text>
<rect class="fr" x="51" y="74.5" width="447.6" height="588.2"/>
<g class="t">
<line x1="73" y1="662.7" x2="73" y2="668.7"/>
<line x1="173.7" y1="662.7" x2="173.7" y2="668.7"/>
<line x1="274.4" y1="662.7" x2="274.4" y2="668.7"/>
<line x1="375.1" y1="662.7" x2="375.1" y2="668.7"/>
<line x1="475.8" y1="662.7" x2="475.8" y2="668.7"/>
<line x1="45" y1="640.1" x2="51" y2="640.1"/>
<line x1="45" y1="504.3" x2="51" y2="504.3"/>
<line x1="45" y1="368.5" x2="51" y2="368.5"/>
<line x1="45" y1="232.8" x2="51" y2="232.8"/>
<line x1="45" y1="97" x2="51" y2="97"/>
</g>
<text class="tk" text-anchor="middle" x="73.2" y="683.9">-6</text>
<text class="tk" text-anchor="middle" x="173.9" y="683.9">-3</text>
<text class="tk" text-anchor="middle" x="274.6" y="683.9">0</text>
<text class="tk" text-anchor="middle" x="375.3" y="683.9">3</text>
<text class="tk" text-anchor="middle" x="476" y="683.9">6</text>
<text class="tk" text-anchor="end" x="41.4" y="645.5">0</text>
<text class="tk" text-anchor="end" x="41.4" y="509.7">1</text>
<text class="tk" text-anchor="end" x="41.4" y="373.9">2</text>
<text class="tk" text-anchor="end" x="41.4" y="238.2">3</text>
<text class="tk" text-anchor="end" x="41.4" y="102.4">4</text>
<text class="ax" x="274.8" y="714.1">log2(FC)</text>
<text class="ax" transform="translate(15.7 369) rotate(-90)">-log10(p value)</text>
</g>
<g>
<text class="pl" x="550.6" y="34.4">(B)</text>
<text class="tt" x="791.8" y="63.9">T3-T1</text>
<g class="d">
<line x1="783.5" y1="75.9" x2="783.5" y2="662.7"/>
<line x1="792.3" y1="75.9" x2="792.3" y2="662.7"/>
<line x1="801.1" y1="75.9" x2="801.1" y2="662.7"/>
<line x1="568.7" y1="463.7" x2="1016.1" y2="463.7"/>
</g>
<g class="b">
<circle cx="802.5" cy="225.7" r="3.6"/><circle cx="809.2" cy="268.1" r="3.6"/><circle cx="803.1" cy="347.4" r="3.6"/><circle cx="801.5" cy="367.4" r="3.6"/><circle cx="804" cy="378.4" r="3.6"/><circle cx="805.7" cy="380.1" r="3.6"/><circle cx="820.4" cy="405.5" r="3.6"/><circle cx="824.6" cy="409.7" r="3.6"/><circle cx="810.8" cy="416.2" r="3.6"/><circle cx="808.2" cy="419" r="3.6"/><circle cx="804.8" cy="426.3" r="3.6"/><circle cx="810.8" cy="430.4" r="3.6"/><circle cx="807.4" cy="432.6" r="3.6"/><circle cx="866.6" cy="430" r="3.6"/><circle cx="872.6" cy="432.1" r="3.6"/><circle cx="866.1" cy="436.8" r="3.6"/><circle cx="801.9" cy="445.9" r="3.6"/><circle cx="803.6" cy="451.5" r="3.6"/><circle cx="805.3" cy="455.4" r="3.6"/><circle cx="804.9" cy="459.1" r="3.6"/><circle cx="918.7" cy="459.8" r="3.6"/><circle cx="962.4" cy="457.6" r="3.6"/><circle cx="920.6" cy="401.2" r="3.6"/>
</g>
<g class="r">
<circle cx="779.8" cy="426.8" r="3.6"/><circle cx="776.6" cy="426.8" r="3.6"/><circle cx="779.1" cy="399.6" r="3.6"/><circle cx="780.8" cy="397.5" r="3.6"/><circle cx="779.4" cy="450.1" r="3.6"/><circle cx="774.6" cy="446.4" r="3.6"/><circle cx="776.9" cy="433" r="3.6"/><circle cx="774.6" cy="399" r="3.6"/><circle cx="775.7" cy="457.1" r="3.6"/><circle cx="775.8" cy="444.4" r="3.6"/><circle cx="770.3" cy="287" r="3.6"/><circle cx="770.6" cy="295.5" r="3.6"/><circle cx="750.3" cy="294.1" r="3.6"/><circle cx="776.1" cy="309.9" r="3.6"/><circle cx="778.6" cy="311.2" r="3.6"/><circle cx="771.8" cy="315" r="3.6"/><circle cx="771.8" cy="318.7" r="3.6"/><circle cx="776.1" cy="332.2" r="3.6"/><circle cx="762" cy="345.7" r="3.6"/><circle cx="774.4" cy="348.8" r="3.6"/><circle cx="778.1" cy="372.1" r="3.6"/><circle cx="778.6" cy="379.3" r="3.6"/><circle cx="747.8" cy="380.4" r="3.6"/><circle cx="774.9" cy="389.1" r="3.6"/><circle cx="759.1" cy="394.2" r="3.6"/><circle cx="778.6" cy="394.5" r="3.6"/><circle cx="779.8" cy="398.7" r="3.6"/><circle cx="769.3" cy="400.9" r="3.6"/><circle cx="763.4" cy="405.5" r="3.6"/><circle cx="767.6" cy="403.3" r="3.6"/><circle cx="782" cy="405.5" r="3.6"/><circle cx="776.1" cy="408" r="3.6"/><circle cx="774.4" cy="411.4" r="3.6"/><circle cx="779.4" cy="412.3" r="3.6"/><circle cx="777.8" cy="418.2" r="3.6"/><circle cx="776.1" cy="422.4" r="3.6"/><circle cx="779.4" cy="425.8" r="3.6"/><circle cx="777.8" cy="430" r="3.6"/><circle cx="776.1" cy="433.4" r="3.6"/><circle cx="781.1" cy="435.1" r="3.6"/><circle cx="770.1" cy="436.8" r="3.6"/><circle cx="652.8" cy="408.9" r="3.6"/><circle cx="697.3" cy="408" r="3.6"/><circle cx="722.4" cy="408.9" r="3.6"/><circle cx="751.2" cy="415.1" r="3.6"/><circle cx="697" cy="430.4" r="3.6"/><circle cx="757.4" cy="428.7" r="3.6"/><circle cx="760.8" cy="426.3" r="3.6"/><circle cx="762.5" cy="441" r="3.6"/><circle cx="774.8" cy="432" r="3.6"/><circle cx="770.6" cy="436.2" r="3.6"/><circle cx="778.2" cy="440.5" r="3.6"/><circle cx="762.1" cy="442.2" r="3.6"/><circle cx="758.7" cy="445.6" r="3.6"/><circle cx="771.4" cy="446.4" r="3.6"/><circle cx="776.5" cy="449.8" r="3.6"/><circle cx="780.7" cy="445.6" r="3.6"/><circle cx="779.9" cy="454" r="3.6"/><circle cx="766.3" cy="454" r="3.6"/><circle cx="761.3" cy="455.4" r="3.6"/><circle cx="755.3" cy="455.7" r="3.6"/><circle cx="777.3" cy="459.1" r="3.6"/><circle cx="774.8" cy="461.6" r="3.6"/>
</g>
<g class="g">
<circle cx="803.5" cy="628.6" r="3.8"/><circle cx="777.5" cy="528.8" r="3.8"/><circle cx="806.7" cy="546.2" r="3.8"/><circle cx="810" cy="593.4" r="3.8"/><circle cx="797" cy="581.1" r="3.8"/><circle cx="793.8" cy="614.6" r="3.8"/><circle cx="789.1" cy="578.1" r="3.8"/><circle cx="785.9" cy="545.3" r="3.8"/><circle cx="787.5" cy="611.5" r="3.8"/><circle cx="778" cy="570.3" r="3.8"/><circle cx="770.1" cy="544.6" r="3.8"/><circle cx="775.4" cy="543.4" r="3.8"/><circle cx="796.9" cy="573.1" r="3.8"/><circle cx="812.3" cy="550.9" r="3.8"/><circle cx="811.5" cy="571" r="3.8"/><circle cx="778.8" cy="527.1" r="3.8"/><circle cx="801.5" cy="547.3" r="3.8"/><circle cx="792.7" cy="607.7" r="3.8"/><circle cx="800.9" cy="594.5" r="3.8"/><circle cx="769.4" cy="564.4" r="3.8"/><circle cx="790" cy="572.6" r="3.8"/><circle cx="780.1" cy="598.8" r="3.8"/><circle cx="791.9" cy="606.2" r="3.8"/><circle cx="789.8" cy="569.5" r="3.8"/><circle cx="788.2" cy="527.1" r="3.8"/><circle cx="788" cy="629.8" r="3.8"/><circle cx="791.6" cy="537.9" r="3.8"/><circle cx="791.3" cy="540.7" r="3.8"/><circle cx="798.5" cy="599.8" r="3.8"/><circle cx="793.7" cy="509.9" r="3.8"/><circle cx="792" cy="568.2" r="3.8"/><circle cx="791.4" cy="597.6" r="3.8"/><circle cx="798.4" cy="588.3" r="3.8"/><circle cx="808" cy="582.9" r="3.8"/><circle cx="791.6" cy="535.1" r="3.8"/><circle cx="799.4" cy="549.2" r="3.8"/><circle cx="791.1" cy="587.6" r="3.8"/><circle cx="796.2" cy="620.2" r="3.8"/><circle cx="779.4" cy="529.3" r="3.8"/><circle cx="798.6" cy="613.2" r="3.8"/><circle cx="765.5" cy="529.6" r="3.8"/><circle cx="792.2" cy="603.3" r="3.8"/><circle cx="793" cy="511.5" r="3.8"/><circle cx="770.7" cy="571.8" r="3.8"/><circle cx="783.1" cy="582.2" r="3.8"/><circle cx="793.5" cy="593.6" r="3.8"/><circle cx="790.5" cy="528" r="3.8"/><circle cx="792.2" cy="622.3" r="3.8"/><circle cx="782.3" cy="598.8" r="3.8"/><circle cx="790.8" cy="589.1" r="3.8"/><circle cx="788.3" cy="624.4" r="3.8"/><circle cx="791.4" cy="518.3" r="3.8"/><circle cx="778.2" cy="527.6" r="3.8"/><circle cx="803.8" cy="544.6" r="3.8"/><circle cx="802.5" cy="628.7" r="3.8"/><circle cx="791.1" cy="571.3" r="3.8"/><circle cx="796.1" cy="522.9" r="3.8"/><circle cx="793.4" cy="610.8" r="3.8"/><circle cx="779.9" cy="513.9" r="3.8"/><circle cx="791.5" cy="623" r="3.8"/><circle cx="788.2" cy="593.5" r="3.8"/><circle cx="768.2" cy="551.6" r="3.8"/><circle cx="790.6" cy="524.9" r="3.8"/><circle cx="812" cy="587" r="3.8"/><circle cx="802.2" cy="580.5" r="3.8"/><circle cx="780.4" cy="593.9" r="3.8"/><circle cx="795.5" cy="527.6" r="3.8"/><circle cx="803.1" cy="576.8" r="3.8"/><circle cx="776" cy="534.1" r="3.8"/><circle cx="781.1" cy="578.9" r="3.8"/><circle cx="788.1" cy="607.9" r="3.8"/><circle cx="802.5" cy="579.9" r="3.8"/><circle cx="801" cy="544.7" r="3.8"/><circle cx="797" cy="592.8" r="3.8"/><circle cx="787.5" cy="588.7" r="3.8"/><circle cx="795.8" cy="609.3" r="3.8"/><circle cx="783.7" cy="570.6" r="3.8"/><circle cx="790.6" cy="566.5" r="3.8"/><circle cx="784.5" cy="537.8" r="3.8"/><circle cx="776.4" cy="534.5" r="3.8"/><circle cx="801.2" cy="511.5" r="3.8"/><circle cx="784.7" cy="574.8" r="3.8"/><circle cx="798.8" cy="599.5" r="3.8"/><circle cx="784.6" cy="557.6" r="3.8"/><circle cx="788.3" cy="571" r="3.8"/><circle cx="800.7" cy="574.4" r="3.8"/><circle cx="784.3" cy="554.6" r="3.8"/><circle cx="782.6" cy="615.3" r="3.8"/><circle cx="777.9" cy="526.9" r="3.8"/><circle cx="790.2" cy="545.7" r="3.8"/><circle cx="790" cy="519.6" r="3.8"/><circle cx="784" cy="607.4" r="3.8"/><circle cx="775.4" cy="552.4" r="3.8"/><circle cx="807" cy="533.6" r="3.8"/><circle cx="798.5" cy="541.2" r="3.8"/><circle cx="788.8" cy="609.4" r="3.8"/><circle cx="788.8" cy="524.3" r="3.8"/><circle cx="794.7" cy="612" r="3.8"/><circle cx="794.3" cy="550.4" r="3.8"/><circle cx="779.9" cy="589.8" r="3.8"/><circle cx="791.5" cy="603.8" r="3.8"/><circle cx="787.7" cy="520.8" r="3.8"/><circle cx="781.1" cy="596.2" r="3.8"/><circle cx="780.2" cy="555.7" r="3.8"/><circle cx="810" cy="532.3" r="3.8"/><circle cx="782.9" cy="534.4" r="3.8"/><circle cx="790.6" cy="580.4" r="3.8"/><circle cx="790" cy="597.7" r="3.8"/><circle cx="798.8" cy="567.8" r="3.8"/><circle cx="771.8" cy="535.9" r="3.8"/><circle cx="797.4" cy="535.5" r="3.8"/><circle cx="781.8" cy="535.1" r="3.8"/><circle cx="780.2" cy="570.5" r="3.8"/><circle cx="787.5" cy="608.3" r="3.8"/><circle cx="790.9" cy="612.6" r="3.8"/><circle cx="783.3" cy="617.5" r="3.8"/><circle cx="777.3" cy="604.1" r="3.8"/><circle cx="784.3" cy="616.1" r="3.8"/><circle cx="792.6" cy="551.9" r="3.8"/><circle cx="806.1" cy="539.9" r="3.8"/><circle cx="786.1" cy="558.2" r="3.8"/><circle cx="791.7" cy="601" r="3.8"/><circle cx="782.7" cy="560.6" r="3.8"/><circle cx="791.1" cy="610.4" r="3.8"/><circle cx="785.2" cy="550.6" r="3.8"/><circle cx="776.1" cy="593.3" r="3.8"/><circle cx="786" cy="574.5" r="3.8"/><circle cx="791.4" cy="581.6" r="3.8"/><circle cx="787.2" cy="621.6" r="3.8"/><circle cx="804.6" cy="596.2" r="3.8"/><circle cx="791.9" cy="601.9" r="3.8"/><circle cx="779.7" cy="541.1" r="3.8"/><circle cx="793.6" cy="511.5" r="3.8"/><circle cx="768.7" cy="532.7" r="3.8"/><circle cx="797.9" cy="630.2" r="3.8"/><circle cx="799.7" cy="521.7" r="3.8"/><circle cx="783.4" cy="616.2" r="3.8"/><circle cx="810.8" cy="600.3" r="3.8"/><circle cx="779.3" cy="610.4" r="3.8"/><circle cx="784.2" cy="534.6" r="3.8"/><circle cx="780.3" cy="528.8" r="3.8"/><circle cx="785.5" cy="534.1" r="3.8"/><circle cx="784.8" cy="540" r="3.8"/><circle cx="805.3" cy="585.6" r="3.8"/><circle cx="774.1" cy="590.9" r="3.8"/><circle cx="787.8" cy="573.4" r="3.8"/><circle cx="791.1" cy="589.5" r="3.8"/><circle cx="791.7" cy="569.9" r="3.8"/><circle cx="793.2" cy="582" r="3.8"/><circle cx="795.4" cy="516.9" r="3.8"/><circle cx="783.8" cy="580.3" r="3.8"/><circle cx="798.8" cy="613.3" r="3.8"/><circle cx="793.2" cy="553.7" r="3.8"/><circle cx="783.8" cy="606.4" r="3.8"/><circle cx="804.5" cy="600.3" r="3.8"/><circle cx="785.9" cy="528.6" r="3.8"/><circle cx="796.1" cy="605" r="3.8"/><circle cx="789.4" cy="566.9" r="3.8"/><circle cx="783.9" cy="518.7" r="3.8"/><circle cx="793.3" cy="569.8" r="3.8"/><circle cx="782.6" cy="597.3" r="3.8"/><circle cx="783.5" cy="608.3" r="3.8"/><circle cx="797.5" cy="526.3" r="3.8"/><circle cx="790.7" cy="556.1" r="3.8"/><circle cx="788" cy="584.1" r="3.8"/><circle cx="784.4" cy="518.3" r="3.8"/><circle cx="799.8" cy="557.1" r="3.8"/><circle cx="785.4" cy="612.4" r="3.8"/><circle cx="793.4" cy="571.4" r="3.8"/><circle cx="805" cy="566.7" r="3.8"/><circle cx="793.3" cy="607.4" r="3.8"/><circle cx="797.2" cy="588.2" r="3.8"/><circle cx="794.3" cy="617.1" r="3.8"/><circle cx="769.3" cy="581.2" r="3.8"/><circle cx="790.6" cy="613.7" r="3.8"/><circle cx="782" cy="602" r="3.8"/><circle cx="779.9" cy="591.1" r="3.8"/><circle cx="791.9" cy="632.9" r="3.8"/><circle cx="795.2" cy="620.3" r="3.8"/><circle cx="797.2" cy="602.7" r="3.8"/><circle cx="789.5" cy="553.1" r="3.8"/><circle cx="797.6" cy="536.6" r="3.8"/><circle cx="782.5" cy="615.7" r="3.8"/><circle cx="774" cy="604.9" r="3.8"/><circle cx="779.9" cy="604.6" r="3.8"/><circle cx="802.5" cy="556.9" r="3.8"/><circle cx="778.5" cy="606.3" r="3.8"/><circle cx="803.6" cy="601.9" r="3.8"/><circle cx="791.4" cy="569.4" r="3.8"/><circle cx="777.9" cy="619.1" r="3.8"/><circle cx="775.5" cy="595" r="3.8"/><circle cx="792" cy="530.7" r="3.8"/><circle cx="794.9" cy="546.9" r="3.8"/><circle cx="793.4" cy="621.2" r="3.8"/><circle cx="792" cy="632.3" r="3.8"/><circle cx="778.5" cy="538.9" r="3.8"/><circle cx="791.7" cy="554.6" r="3.8"/><circle cx="783.7" cy="529.5" r="3.8"/><circle cx="792.1" cy="505.8" r="3.8"/><circle cx="777.9" cy="609" r="3.8"/><circle cx="799.1" cy="538.3" r="3.8"/><circle cx="788" cy="598.4" r="3.8"/><circle cx="796.3" cy="603.7" r="3.8"/><circle cx="766.3" cy="536.8" r="3.8"/><circle cx="781.9" cy="525.4" r="3.8"/><circle cx="785.1" cy="584.8" r="3.8"/><circle cx="802.4" cy="574" r="3.8"/><circle cx="793.8" cy="521.4" r="3.8"/><circle cx="795.7" cy="595.8" r="3.8"/><circle cx="801.7" cy="568.6" r="3.8"/><circle cx="793.6" cy="543.4" r="3.8"/><circle cx="803.5" cy="553.3" r="3.8"/><circle cx="799.9" cy="507.7" r="3.8"/><circle cx="792.1" cy="577.5" r="3.8"/><circle cx="796.6" cy="612" r="3.8"/><circle cx="793.6" cy="610" r="3.8"/><circle cx="795.3" cy="572.2" r="3.8"/><circle cx="788.1" cy="558.7" r="3.8"/><circle cx="790.5" cy="533" r="3.8"/><circle cx="787.8" cy="541.6" r="3.8"/><circle cx="797.3" cy="604.5" r="3.8"/><circle cx="782.5" cy="581.8" r="3.8"/><circle cx="781.9" cy="534.1" r="3.8"/><circle cx="787" cy="622.5" r="3.8"/><circle cx="795.9" cy="626.4" r="3.8"/><circle cx="795.9" cy="611.1" r="3.8"/><circle cx="794.2" cy="589.7" r="3.8"/><circle cx="780.4" cy="575" r="3.8"/><circle cx="801.7" cy="591.2" r="3.8"/><circle cx="782.3" cy="597.9" r="3.8"/><circle cx="774" cy="545.5" r="3.8"/><circle cx="790.2" cy="529.9" r="3.8"/><circle cx="788.7" cy="577" r="3.8"/><circle cx="775.4" cy="523.8" r="3.8"/><circle cx="778.7" cy="610.2" r="3.8"/><circle cx="775.7" cy="594.2" r="3.8"/><circle cx="795" cy="616.6" r="3.8"/><circle cx="788.9" cy="591.6" r="3.8"/><circle cx="799.1" cy="580.4" r="3.8"/><circle cx="796.3" cy="579.7" r="3.8"/><circle cx="785.3" cy="587" r="3.8"/><circle cx="798.1" cy="550.7" r="3.8"/><circle cx="782.1" cy="596.6" r="3.8"/><circle cx="784.9" cy="522.6" r="3.8"/><circle cx="786.7" cy="550.9" r="3.8"/><circle cx="789.5" cy="554.1" r="3.8"/><circle cx="790" cy="624.8" r="3.8"/><circle cx="794.7" cy="547.2" r="3.8"/><circle cx="785.3" cy="623.1" r="3.8"/><circle cx="790.6" cy="567.2" r="3.8"/><circle cx="779.8" cy="581.2" r="3.8"/><circle cx="798" cy="553.7" r="3.8"/><circle cx="781.7" cy="616.4" r="3.8"/><circle cx="786.7" cy="567.8" r="3.8"/><circle cx="778.8" cy="586.6" r="3.8"/><circle cx="774.3" cy="509.5" r="3.8"/><circle cx="773.7" cy="589.7" r="3.8"/><circle cx="800.3" cy="577" r="3.8"/><circle cx="771.1" cy="559" r="3.8"/><circle cx="808.3" cy="599" r="3.8"/><circle cx="796" cy="518.8" r="3.8"/><circle cx="774.3" cy="530" r="3.8"/><circle cx="791.4" cy="616.7" r="3.8"/><circle cx="796.6" cy="560.6" r="3.8"/><circle cx="790.3" cy="584.2" r="3.8"/><circle cx="797.8" cy="551.3" r="3.8"/><circle cx="795.7" cy="629.8" r="3.8"/><circle cx="790.5" cy="589.7" r="3.8"/><circle cx="791.9" cy="627.3" r="3.8"/><circle cx="780.8" cy="553.5" r="3.8"/><circle cx="791" cy="522.2" r="3.8"/><circle cx="794.9" cy="515.6" r="3.8"/><circle cx="784.2" cy="582.5" r="3.8"/><circle cx="779.5" cy="613.4" r="3.8"/><circle cx="787.4" cy="566.9" r="3.8"/><circle cx="789.5" cy="505.9" r="3.8"/><circle cx="814.4" cy="583.3" r="3.8"/><circle cx="787.6" cy="601.6" r="3.8"/><circle cx="806.3" cy="584.2" r="3.8"/><circle cx="796" cy="625.2" r="3.8"/><circle cx="777.6" cy="506.9" r="3.8"/><circle cx="803.6" cy="527.2" r="3.8"/><circle cx="786" cy="514.6" r="3.8"/><circle cx="798.5" cy="610.1" r="3.8"/><circle cx="777.7" cy="577.1" r="3.8"/><circle cx="799.3" cy="610.5" r="3.8"/><circle cx="797.6" cy="595.4" r="3.8"/><circle cx="779.3" cy="547.3" r="3.8"/><circle cx="795.2" cy="569" r="3.8"/><circle cx="804.4" cy="538.1" r="3.8"/><circle cx="787.3" cy="576.6" r="3.8"/><circle cx="791" cy="624.3" r="3.8"/><circle cx="807.4" cy="591" r="3.8"/><circle cx="767.7" cy="557.7" r="3.8"/><circle cx="795.4" cy="537" r="3.8"/><circle cx="798.7" cy="589.8" r="3.8"/><circle cx="782.6" cy="563.5" r="3.8"/><circle cx="785.9" cy="592.8" r="3.8"/><circle cx="786.9" cy="584.8" r="3.8"/><circle cx="796.2" cy="596.5" r="3.8"/><circle cx="797" cy="627.8" r="3.8"/><circle cx="804.7" cy="575.8" r="3.8"/><circle cx="795" cy="621.6" r="3.8"/><circle cx="789.6" cy="542.3" r="3.8"/><circle cx="793.3" cy="569.4" r="3.8"/><circle cx="796.3" cy="527.4" r="3.8"/><circle cx="798.9" cy="619.9" r="3.8"/><circle cx="790.4" cy="576.2" r="3.8"/><circle cx="789.6" cy="603.8" r="3.8"/><circle cx="786.7" cy="620.5" r="3.8"/><circle cx="789.4" cy="540" r="3.8"/><circle cx="782.2" cy="597.3" r="3.8"/><circle cx="778.2" cy="591.9" r="3.8"/><circle cx="791.9" cy="614.3" r="3.8"/><circle cx="793.2" cy="615.5" r="3.8"/><circle cx="802.3" cy="569.4" r="3.8"/><circle cx="796" cy="536" r="3.8"/><circle cx="790.7" cy="613.2" r="3.8"/><circle cx="793.2" cy="540.4" r="3.8"/><circle cx="780.5" cy="594.7" r="3.8"/><circle cx="791.7" cy="554" r="3.8"/><circle cx="785.4" cy="546.2" r="3.8"/><circle cx="786.6" cy="526.5" r="3.8"/><circle cx="794.9" cy="602.7" r="3.8"/><circle cx="786.3" cy="623.5" r="3.8"/><circle cx="780.8" cy="612.9" r="3.8"/><circle cx="787.9" cy="558.6" r="3.8"/><circle cx="770.4" cy="525.2" r="3.8"/><circle cx="791.3" cy="617.8" r="3.8"/><circle cx="787.2" cy="606.8" r="3.8"/><circle cx="788.1" cy="525.5" r="3.8"/><circle cx="772.4" cy="579.2" r="3.8"/><circle cx="791" cy="631.1" r="3.8"/><circle cx="787.1" cy="554.6" r="3.8"/><circle cx="784.5" cy="534.1" r="3.8"/><circle cx="792" cy="619.3" r="3.8"/><circle cx="784.7" cy="507.4" r="3.8"/><circle cx="792.3" cy="633.6" r="3.8"/><circle cx="808.4" cy="599.9" r="3.8"/><circle cx="783.2" cy="544.4" r="3.8"/><circle cx="779.7" cy="617" r="3.8"/><circle cx="792.2" cy="596.3" r="3.8"/><circle cx="800.7" cy="539.5" r="3.8"/><circle cx="803.7" cy="582.4" r="3.8"/><circle cx="799.5" cy="584.7" r="3.8"/><circle cx="770.7" cy="533.1" r="3.8"/><circle cx="790.7" cy="571.8" r="3.8"/><circle cx="806.7" cy="577.1" r="3.8"/><circle cx="781.4" cy="601.5" r="3.8"/><circle cx="782.9" cy="526.4" r="3.8"/><circle cx="777.1" cy="558.8" r="3.8"/><circle cx="779.8" cy="506" r="3.8"/><circle cx="795.7" cy="581.3" r="3.8"/><circle cx="802.5" cy="607.5" r="3.8"/><circle cx="786.6" cy="612.4" r="3.8"/><circle cx="783.7" cy="568.4" r="3.8"/><circle cx="789.9" cy="600" r="3.8"/><circle cx="779" cy="576.8" r="3.8"/><circle cx="791.4" cy="531.3" r="3.8"/><circle cx="801.4" cy="531.2" r="3.8"/><circle cx="791.4" cy="528.3" r="3.8"/><circle cx="809.5" cy="563.2" r="3.8"/><circle cx="792.6" cy="567.6" r="3.8"/><circle cx="782.5" cy="573.1" r="3.8"/><circle cx="795" cy="631.5" r="3.8"/><circle cx="793.3" cy="612.4" r="3.8"/><circle cx="790.9" cy="553.3" r="3.8"/><circle cx="808.3" cy="590.8" r="3.8"/><circle cx="795.3" cy="617.3" r="3.8"/><circle cx="799.7" cy="629.4" r="3.8"/><circle cx="795.1" cy="630.9" r="3.8"/><circle cx="792.9" cy="512" r="3.8"/><circle cx="802.1" cy="535.8" r="3.8"/><circle cx="775.8" cy="553.7" r="3.8"/><circle cx="768.7" cy="540" r="3.8"/><circle cx="782.7" cy="578" r="3.8"/><circle cx="789.5" cy="631.8" r="3.8"/><circle cx="786.3" cy="560" r="3.8"/><circle cx="786.7" cy="592.9" r="3.8"/><circle cx="798.3" cy="520.4" r="3.8"/><circle cx="795.4" cy="607.3" r="3.8"/><circle cx="799.5" cy="607.2" r="3.8"/><circle cx="806.7" cy="587.2" r="3.8"/><circle cx="788.6" cy="612.9" r="3.8"/><circle cx="793" cy="627.5" r="3.8"/><circle cx="806.4" cy="528.5" r="3.8"/><circle cx="769.8" cy="600.9" r="3.8"/><circle cx="796.1" cy="525.4" r="3.8"/><circle cx="811.1" cy="588.7" r="3.8"/><circle cx="783.2" cy="614.1" r="3.8"/><circle cx="776" cy="590.4" r="3.8"/><circle cx="802.3" cy="532.5" r="3.8"/><circle cx="798.3" cy="611.5" r="3.8"/><circle cx="787.2" cy="615.2" r="3.8"/><circle cx="789.7" cy="534.9" r="3.8"/><circle cx="783.6" cy="604.6" r="3.8"/><circle cx="792.8" cy="593.9" r="3.8"/><circle cx="795.4" cy="515.3" r="3.8"/><circle cx="784.4" cy="528.8" r="3.8"/><circle cx="794.1" cy="526.6" r="3.8"/><circle cx="774.6" cy="598.6" r="3.8"/><circle cx="771.8" cy="537.4" r="3.8"/><circle cx="795.3" cy="630.6" r="3.8"/><circle cx="793.5" cy="549.1" r="3.8"/><circle cx="805.7" cy="534.5" r="3.8"/><circle cx="791" cy="592.6" r="3.8"/><circle cx="798.3" cy="512.4" r="3.8"/><circle cx="783" cy="571.7" r="3.8"/><circle cx="786.9" cy="603.3" r="3.8"/><circle cx="786.8" cy="520.2" r="3.8"/><circle cx="791.2" cy="633.9" r="3.8"/><circle cx="786.3" cy="521.7" r="3.8"/><circle cx="790.4" cy="528.1" r="3.8"/><circle cx="804.5" cy="568.4" r="3.8"/><circle cx="800.6" cy="580.1" r="3.8"/><circle cx="794.8" cy="628.5" r="3.8"/><circle cx="799.2" cy="619.1" r="3.8"/><circle cx="794.1" cy="619.5" r="3.8"/><circle cx="779" cy="550.5" r="3.8"/><circle cx="792.7" cy="521.4" r="3.8"/><circle cx="795.9" cy="594.8" r="3.8"/><circle cx="788.8" cy="554.7" r="3.8"/><circle cx="808.9" cy="592.4" r="3.8"/><circle cx="798" cy="506.8" r="3.8"/><circle cx="791" cy="613.3" r="3.8"/><circle cx="787.2" cy="532" r="3.8"/><circle cx="806" cy="558.4" r="3.8"/><circle cx="794.7" cy="512" r="3.8"/><circle cx="773.8" cy="561.5" r="3.8"/><circle cx="795.3" cy="600" r="3.8"/><circle cx="784.3" cy="591.5" r="3.8"/><circle cx="797.7" cy="599.3" r="3.8"/><circle cx="768.2" cy="600.2" r="3.8"/><circle cx="780.4" cy="557.2" r="3.8"/><circle cx="801.1" cy="625" r="3.8"/><circle cx="775.4" cy="560.5" r="3.8"/><circle cx="784.1" cy="572.3" r="3.8"/><circle cx="791.1" cy="616.4" r="3.8"/><circle cx="788.4" cy="604.7" r="3.8"/><circle cx="771.9" cy="530.5" r="3.8"/><circle cx="805.2" cy="595.7" r="3.8"/><circle cx="797.3" cy="543.1" r="3.8"/><circle cx="780.4" cy="576.3" r="3.8"/><circle cx="780.7" cy="584" r="3.8"/><circle cx="790.6" cy="568.8" r="3.8"/><circle cx="780.7" cy="601.5" r="3.8"/><circle cx="778.8" cy="604.4" r="3.8"/><circle cx="794.8" cy="534.9" r="3.8"/><circle cx="808" cy="563.6" r="3.8"/><circle cx="802.8" cy="606" r="3.8"/><circle cx="790" cy="615.5" r="3.8"/><circle cx="780.5" cy="527.1" r="3.8"/><circle cx="799" cy="598" r="3.8"/><circle cx="789.4" cy="575.7" r="3.8"/><circle cx="777.2" cy="559.5" r="3.8"/><circle cx="788.1" cy="575.9" r="3.8"/><circle cx="800.2" cy="577.1" r="3.8"/><circle cx="790.5" cy="525.9" r="3.8"/><circle cx="787.5" cy="527" r="3.8"/><circle cx="794.1" cy="615.1" r="3.8"/><circle cx="795.9" cy="607.8" r="3.8"/><circle cx="794.4" cy="614.8" r="3.8"/><circle cx="796.6" cy="537.9" r="3.8"/><circle cx="796.7" cy="633.8" r="3.8"/><circle cx="798.2" cy="621.9" r="3.8"/><circle cx="802.7" cy="509.8" r="3.8"/><circle cx="799.1" cy="580.7" r="3.8"/><circle cx="786" cy="550.9" r="3.8"/><circle cx="769.6" cy="568.8" r="3.8"/><circle cx="783" cy="591.9" r="3.8"/><circle cx="787.8" cy="567.7" r="3.8"/><circle cx="791.1" cy="535.7" r="3.8"/><circle cx="784.1" cy="611.4" r="3.8"/><circle cx="781.5" cy="540.9" r="3.8"/><circle cx="784.9" cy="537.2" r="3.8"/><circle cx="807.8" cy="599.2" r="3.8"/><circle cx="799.4" cy="552.2" r="3.8"/><circle cx="779.4" cy="515.9" r="3.8"/><circle cx="790.3" cy="618.8" r="3.8"/><circle cx="789.6" cy="575.9" r="3.8"/><circle cx="812.3" cy="560.4" r="3.8"/><circle cx="805.9" cy="533.4" r="3.8"/><circle cx="800.7" cy="592.8" r="3.8"/><circle cx="794.5" cy="521.2" r="3.8"/><circle cx="792.6" cy="612.3" r="3.8"/><circle cx="795.4" cy="569.1" r="3.8"/><circle cx="790.5" cy="602.1" r="3.8"/><circle cx="794.6" cy="547" r="3.8"/><circle cx="784" cy="528" r="3.8"/><circle cx="784.8" cy="585" r="3.8"/><circle cx="797.3" cy="541.6" r="3.8"/><circle cx="783.5" cy="520.3" r="3.8"/><circle cx="792.4" cy="625.7" r="3.8"/><circle cx="813.4" cy="590.7" r="3.8"/><circle cx="790.7" cy="621.3" r="3.8"/><circle cx="792.9" cy="570.6" r="3.8"/><circle cx="777.4" cy="562.8" r="3.8"/><circle cx="794.1" cy="597.5" r="3.8"/><circle cx="790.5" cy="628.5" r="3.8"/><circle cx="795.8" cy="556" r="3.8"/><circle cx="788.9" cy="519.9" r="3.8"/><circle cx="799.1" cy="590.3" r="3.8"/><circle cx="775.4" cy="543.7" r="3.8"/><circle cx="800.3" cy="621.9" r="3.8"/><circle cx="799.9" cy="599.4" r="3.8"/><circle cx="799.3" cy="592.6" r="3.8"/><circle cx="791.5" cy="542.9" r="3.8"/><circle cx="787.7" cy="583" r="3.8"/><circle cx="791" cy="630.7" r="3.8"/><circle cx="810.5" cy="551.3" r="3.8"/><circle cx="806.7" cy="579.2" r="3.8"/><circle cx="780.1" cy="586.4" r="3.8"/><circle cx="796.3" cy="537.9" r="3.8"/><circle cx="795.1" cy="529.1" r="3.8"/><circle cx="786.1" cy="575.1" r="3.8"/><circle cx="785.4" cy="531" r="3.8"/><circle cx="780.9" cy="557.6" r="3.8"/><circle cx="786.9" cy="599" r="3.8"/><circle cx="784.1" cy="570.1" r="3.8"/><circle cx="796.3" cy="623.5" r="3.8"/><circle cx="814" cy="559" r="3.8"/><circle cx="775.6" cy="571.6" r="3.8"/><circle cx="799.5" cy="566.5" r="3.8"/><circle cx="782.4" cy="545.9" r="3.8"/><circle cx="781.4" cy="560.6" r="3.8"/><circle cx="770.7" cy="543.1" r="3.8"/><circle cx="799.6" cy="600.8" r="3.8"/><circle cx="790.7" cy="562.1" r="3.8"/><circle cx="795.6" cy="515.1" r="3.8"/><circle cx="783.6" cy="575.1" r="3.8"/><circle cx="787.1" cy="617.7" r="3.8"/><circle cx="789.4" cy="629.8" r="3.8"/><circle cx="789.9" cy="526.1" r="3.8"/><circle cx="789.9" cy="567.9" r="3.8"/><circle cx="799.1" cy="515" r="3.8"/><circle cx="788.9" cy="597.3" r="3.8"/><circle cx="784.6" cy="541.2" r="3.8"/><circle cx="791.4" cy="614.3" r="3.8"/><circle cx="780" cy="573.3" r="3.8"/><circle cx="785.8" cy="538.7" r="3.8"/><circle cx="800.6" cy="573.6" r="3.8"/><circle cx="786.8" cy="603.4" r="3.8"/><circle cx="782.7" cy="577" r="3.8"/><circle cx="805.6" cy="589.3" r="3.8"/><circle cx="798" cy="606.7" r="3.8"/><circle cx="790.4" cy="622" r="3.8"/><circle cx="778.8" cy="574.4" r="3.8"/><circle cx="787.3" cy="565.7" r="3.8"/><circle cx="787.2" cy="618.2" r="3.8"/><circle cx="772.6" cy="579.3" r="3.8"/><circle cx="782.3" cy="519.4" r="3.8"/><circle cx="793.3" cy="619.4" r="3.8"/><circle cx="789.6" cy="583.9" r="3.8"/><circle cx="801" cy="572.6" r="3.8"/><circle cx="809.4" cy="592.9" r="3.8"/><circle cx="800.1" cy="619.1" r="3.8"/><circle cx="790.9" cy="609.7" r="3.8"/><circle cx="806.4" cy="549.5" r="3.8"/><circle cx="786.5" cy="511.9" r="3.8"/><circle cx="791.7" cy="591.2" r="3.8"/><circle cx="792.6" cy="626.2" r="3.8"/><circle cx="790.9" cy="566.3" r="3.8"/><circle cx="804.5" cy="541" r="3.8"/><circle cx="777.9" cy="572.1" r="3.8"/><circle cx="772.9" cy="584.1" r="3.8"/><circle cx="803.5" cy="559.5" r="3.8"/><circle cx="790.5" cy="623.4" r="3.8"/><circle cx="805.6" cy="532.4" r="3.8"/><circle cx="794" cy="580.7" r="3.8"/><circle cx="801.9" cy="617.5" r="3.8"/><circle cx="793.1" cy="616.6" r="3.8"/><circle cx="792.2" cy="527.9" r="3.8"/><circle cx="789.9" cy="505.4" r="3.8"/><circle cx="790.5" cy="630.1" r="3.8"/><circle cx="792.5" cy="555.1" r="3.8"/><circle cx="811.2" cy="582.9" r="3.8"/><circle cx="788.4" cy="625" r="3.8"/><circle cx="791.6" cy="591" r="3.8"/><circle cx="791" cy="630.2" r="3.8"/><circle cx="782.6" cy="535.5" r="3.8"/><circle cx="786.2" cy="619.5" r="3.8"/><circle cx="792.4" cy="526.4" r="3.8"/><circle cx="798" cy="529.1" r="3.8"/><circle cx="793.7" cy="629" r="3.8"/><circle cx="782.3" cy="607.3" r="3.8"/><circle cx="789.2" cy="600.6" r="3.8"/><circle cx="788" cy="615.6" r="3.8"/><circle cx="792.2" cy="556.6" r="3.8"/><circle cx="794.4" cy="589.7" r="3.8"/><circle cx="795.4" cy="580.5" r="3.8"/><circle cx="789.8" cy="610.5" r="3.8"/><circle cx="790.5" cy="556.7" r="3.8"/><circle cx="788.4" cy="617.6" r="3.8"/><circle cx="787.5" cy="536.4" r="3.8"/><circle cx="788.8" cy="536.2" r="3.8"/><circle cx="789.1" cy="568.2" r="3.8"/><circle cx="800.9" cy="567.3" r="3.8"/><circle cx="805" cy="570.5" r="3.8"/><circle cx="795" cy="543.5" r="3.8"/><circle cx="790.5" cy="559.4" r="3.8"/><circle cx="781.3" cy="544" r="3.8"/><circle cx="781.4" cy="596.5" r="3.8"/><circle cx="782.3" cy="585.4" r="3.8"/><circle cx="792.6" cy="582.5" r="3.8"/><circle cx="780.5" cy="524.5" r="3.8"/><circle cx="794.6" cy="586.9" r="3.8"/><circle cx="779.2" cy="549.6" r="3.8"/><circle cx="808.6" cy="590.1" r="3.8"/><circle cx="776.2" cy="605.9" r="3.8"/><circle cx="789.1" cy="574.7" r="3.8"/><circle cx="786" cy="608.3" r="3.8"/><circle cx="783.2" cy="615.8" r="3.8"/><circle cx="796.7" cy="630.4" r="3.8"/><circle cx="808.7" cy="566" r="3.8"/><circle cx="795.6" cy="629.2" r="3.8"/><circle cx="787.1" cy="614.2" r="3.8"/><circle cx="790.4" cy="534" r="3.8"/><circle cx="783.3" cy="518.8" r="3.8"/><circle cx="776.1" cy="561.7" r="3.8"/><circle cx="781.3" cy="576.8" r="3.8"/><circle cx="799.7" cy="572.1" r="3.8"/><circle cx="803" cy="563.5" r="3.8"/><circle cx="770.1" cy="599.7" r="3.8"/><circle cx="788.1" cy="612.5" r="3.8"/><circle cx="797.9" cy="581.3" r="3.8"/><circle cx="803.8" cy="511.4" r="3.8"/><circle cx="794.3" cy="603.6" r="3.8"/><circle cx="787.5" cy="525.8" r="3.8"/><circle cx="790.2" cy="507.5" r="3.8"/><circle cx="788.2" cy="611.4" r="3.8"/><circle cx="787.5" cy="608.6" r="3.8"/><circle cx="801.7" cy="518" r="3.8"/><circle cx="788.9" cy="547.8" r="3.8"/><circle cx="787.3" cy="582.5" r="3.8"/><circle cx="791.2" cy="616.5" r="3.8"/><circle cx="800.9" cy="571.7" r="3.8"/><circle cx="782.8" cy="615.1" r="3.8"/><circle cx="790.4" cy="613.8" r="3.8"/><circle cx="791.9" cy="528.2" r="3.8"/><circle cx="796.5" cy="554.3" r="3.8"/><circle cx="789.2" cy="600.1" r="3.8"/><circle cx="792.8" cy="578.2" r="3.8"/><circle cx="788.9" cy="548.7" r="3.8"/><circle cx="789.6" cy="596.5" r="3.8"/><circle cx="792.3" cy="620.2" r="3.8"/><circle cx="783.1" cy="548.9" r="3.8"/><circle cx="797.5" cy="624" r="3.8"/><circle cx="797.5" cy="625.1" r="3.8"/><circle cx="771.4" cy="561.5" r="3.8"/><circle cx="780.6" cy="546.3" r="3.8"/><circle cx="806.9" cy="612.4" r="3.8"/><circle cx="799.9" cy="547.1" r="3.8"/><circle cx="796.3" cy="541.7" r="3.8"/><circle cx="802.9" cy="572.4" r="3.8"/><circle cx="788.1" cy="582.8" r="3.8"/><circle cx="793.2" cy="627.1" r="3.8"/><circle cx="799.9" cy="565.4" r="3.8"/><circle cx="784.2" cy="526.1" r="3.8"/><circle cx="778.2" cy="527.7" r="3.8"/><circle cx="796.1" cy="507.2" r="3.8"/><circle cx="789.4" cy="519.2" r="3.8"/><circle cx="782.3" cy="562.2" r="3.8"/><circle cx="799.7" cy="561.5" r="3.8"/><circle cx="806.9" cy="592" r="3.8"/><circle cx="804.8" cy="511.5" r="3.8"/><circle cx="790.3" cy="622.5" r="3.8"/><circle cx="797" cy="543" r="3.8"/><circle cx="781.1" cy="595.2" r="3.8"/><circle cx="773.5" cy="550.8" r="3.8"/><circle cx="783.7" cy="585.3" r="3.8"/><circle cx="796.1" cy="560.3" r="3.8"/><circle cx="796.6" cy="611.1" r="3.8"/><circle cx="792.4" cy="591.4" r="3.8"/><circle cx="795.9" cy="589.4" r="3.8"/><circle cx="784.2" cy="621.9" r="3.8"/><circle cx="794.3" cy="631.7" r="3.8"/><circle cx="796.9" cy="568.3" r="3.8"/><circle cx="812.4" cy="601.3" r="3.8"/><circle cx="788" cy="528.4" r="3.8"/><circle cx="795" cy="588.2" r="3.8"/><circle cx="781.3" cy="587.7" r="3.8"/><circle cx="810.8" cy="599.3" r="3.8"/><circle cx="775.8" cy="576.3" r="3.8"/><circle cx="797.2" cy="612.4" r="3.8"/><circle cx="791.2" cy="535" r="3.8"/><circle cx="787.7" cy="534.8" r="3.8"/><circle cx="793.3" cy="527.5" r="3.8"/><circle cx="789.5" cy="606.8" r="3.8"/><circle cx="801.6" cy="599.4" r="3.8"/><circle cx="780" cy="600" r="3.8"/><circle cx="791.5" cy="507.5" r="3.8"/><circle cx="780" cy="544.6" r="3.8"/><circle cx="786.4" cy="613.6" r="3.8"/><circle cx="785.9" cy="522.2" r="3.8"/><circle cx="796.6" cy="520.3" r="3.8"/><circle cx="795.7" cy="608.1" r="3.8"/><circle cx="777" cy="521.7" r="3.8"/><circle cx="781" cy="606.5" r="3.8"/><circle cx="791.4" cy="545.4" r="3.8"/><circle cx="787.7" cy="546.8" r="3.8"/><circle cx="787.5" cy="604.8" r="3.8"/><circle cx="787" cy="570.4" r="3.8"/><circle cx="762.1" cy="541" r="3.8"/><circle cx="807.7" cy="587.5" r="3.8"/><circle cx="798.1" cy="554.1" r="3.8"/><circle cx="781.6" cy="582.5" r="3.8"/><circle cx="802.5" cy="592.2" r="3.8"/><circle cx="807.5" cy="549.9" r="3.8"/><circle cx="767.7" cy="576.1" r="3.8"/><circle cx="770.6" cy="537" r="3.8"/><circle cx="777.1" cy="530.9" r="3.8"/><circle cx="781.4" cy="574.4" r="3.8"/><circle cx="795.3" cy="547.4" r="3.8"/><circle cx="806.8" cy="544.5" r="3.8"/><circle cx="819" cy="598.7" r="3.8"/><circle cx="826" cy="576.3" r="3.8"/><circle cx="811.6" cy="525.3" r="3.8"/><circle cx="779.8" cy="571.2" r="3.8"/><circle cx="770.5" cy="612.6" r="3.8"/><circle cx="824.4" cy="564.3" r="3.8"/><circle cx="768.2" cy="540.5" r="3.8"/><circle cx="785.3" cy="571.6" r="3.8"/><circle cx="814.8" cy="605.6" r="3.8"/><circle cx="814.5" cy="585.3" r="3.8"/><circle cx="784.7" cy="580.8" r="3.8"/><circle cx="813.5" cy="593.3" r="3.8"/><circle cx="795.9" cy="530.3" r="3.8"/><circle cx="764.9" cy="599.4" r="3.8"/><circle cx="795.5" cy="573.4" r="3.8"/><circle cx="754.9" cy="564.7" r="3.8"/><circle cx="818.3" cy="555.8" r="3.8"/><circle cx="788.4" cy="539.3" r="3.8"/><circle cx="790" cy="560.1" r="3.8"/><circle cx="793.2" cy="585.5" r="3.8"/><circle cx="819.1" cy="548.3" r="3.8"/><circle cx="802.7" cy="602" r="3.8"/><circle cx="780.1" cy="577.5" r="3.8"/><circle cx="783.6" cy="548.7" r="3.8"/><circle cx="795.4" cy="559.9" r="3.8"/><circle cx="771.5" cy="544.3" r="3.8"/><circle cx="763.7" cy="545.1" r="3.8"/><circle cx="787.1" cy="564" r="3.8"/><circle cx="776.3" cy="601.5" r="3.8"/><circle cx="816.2" cy="546.2" r="3.8"/><circle cx="760.7" cy="557.6" r="3.8"/><circle cx="798.3" cy="606.6" r="3.8"/><circle cx="806.2" cy="533.2" r="3.8"/><circle cx="798.6" cy="574.1" r="3.8"/><circle cx="761.1" cy="576.2" r="3.8"/><circle cx="780.5" cy="601.4" r="3.8"/><circle cx="781.6" cy="465.9" r="3.8"/><circle cx="779.9" cy="470.9" r="3.8"/><circle cx="782.4" cy="475.2" r="3.8"/><circle cx="800.2" cy="467.6" r="3.8"/><circle cx="803.6" cy="470.1" r="3.8"/><circle cx="801.9" cy="474.3" r="3.8"/><circle cx="779.9" cy="479.4" r="3.8"/><circle cx="783.3" cy="482.8" r="3.8"/><circle cx="774.8" cy="487.9" r="3.8"/><circle cx="779.9" cy="488.7" r="3.8"/><circle cx="785" cy="489.6" r="3.8"/><circle cx="781.6" cy="494.6" r="3.8"/><circle cx="779" cy="498" r="3.8"/><circle cx="773.1" cy="503.1" r="3.8"/><circle cx="778.2" cy="502.3" r="3.8"/><circle cx="783.3" cy="501.4" r="3.8"/><circle cx="785.8" cy="504.8" r="3.8"/><circle cx="770.6" cy="507.3" r="3.8"/><circle cx="776" cy="483.5" r="3.8"/><circle cx="786.5" cy="478" r="3.8"/><circle cx="777.5" cy="493" r="3.8"/><circle cx="784.5" cy="497" r="3.8"/><circle cx="800.5" cy="480.5" r="3.8"/><circle cx="798.5" cy="497.5" r="3.8"/><circle cx="783.3" cy="375" r="3.8"/><circle cx="785.4" cy="384.8" r="3.8"/><circle cx="797.2" cy="405.2" r="3.8"/><circle cx="785" cy="459.9" r="3.8"/><circle cx="799.4" cy="460.8" r="3.8"/><circle cx="772.3" cy="465" r="3.8"/><circle cx="758.2" cy="469.3" r="3.8"/><circle cx="750.3" cy="474" r="3.8"/><circle cx="863.7" cy="468.9" r="3.8"/><circle cx="891.1" cy="466.4" r="3.8"/><circle cx="965.3" cy="465" r="3.8"/><circle cx="741.8" cy="494.6" r="3.8"/><circle cx="761.3" cy="491.8" r="3.8"/><circle cx="903.5" cy="501.4" r="3.8"/><circle cx="874.7" cy="507.9" r="3.8"/><circle cx="854.4" cy="507.3" r="3.8"/><circle cx="829.8" cy="484" r="3.8"/><circle cx="807" cy="489.6" r="3.8"/><circle cx="812" cy="499.7" r="3.8"/><circle cx="795.1" cy="502.3" r="3.8"/><circle cx="839.1" cy="520.9" r="3.8"/><circle cx="829.8" cy="523.4" r="3.8"/><circle cx="742.6" cy="523.8" r="3.8"/><circle cx="749.4" cy="520.9" r="3.8"/><circle cx="766.3" cy="526" r="3.8"/><circle cx="820.5" cy="516.7" r="3.8"/><circle cx="812" cy="514.1" r="3.8"/><circle cx="815.4" cy="520.9" r="3.8"/><circle cx="802.7" cy="511.6" r="3.8"/><circle cx="805.3" cy="504.8" r="3.8"/><circle cx="665.5" cy="503.2" r="3.8"/><circle cx="757.1" cy="469.2" r="3.8"/><circle cx="727.6" cy="532.7" r="3.8"/><circle cx="831.9" cy="529.2" r="3.8"/><circle cx="857.6" cy="534.2" r="3.8"/><circle cx="866.5" cy="537.8" r="3.8"/><circle cx="836.3" cy="555.8" r="3.8"/><circle cx="853.2" cy="560.2" r="3.8"/><circle cx="857.6" cy="573.5" r="3.8"/><circle cx="632.4" cy="572.6" r="3.8"/><circle cx="664.9" cy="564.7" r="3.8"/><circle cx="689.8" cy="560.2" r="3.8"/><circle cx="694.5" cy="561.7" r="3.8"/><circle cx="678.8" cy="571.8" r="3.8"/><circle cx="713.4" cy="571.8" r="3.8"/><circle cx="736.4" cy="569.7" r="3.8"/><circle cx="752.7" cy="570.6" r="3.8"/><circle cx="757.1" cy="572.6" r="3.8"/><circle cx="726.1" cy="578.5" r="3.8"/><circle cx="729.1" cy="590.4" r="3.8"/><circle cx="914" cy="573.7" r="3.8"/><circle cx="920.3" cy="571.2" r="3.8"/><circle cx="954.9" cy="574.3" r="3.8"/><circle cx="1032.3" cy="573.4" r="3.8"/><circle cx="834" cy="602.2" r="3.8"/><circle cx="838.4" cy="590.4" r="3.8"/><circle cx="825.1" cy="591.8" r="3.8"/><circle cx="819.2" cy="605.1" r="3.8"/>
</g>
<g class="s">
<line x1="687.2" y1="275.7" x2="749.8" y2="293.8"/>
<line x1="654.2" y1="337.8" x2="721" y2="408"/>
<line x1="755.7" y1="365.4" x2="761.3" y2="426.3"/>
<line x1="847.2" y1="377.6" x2="821.8" y2="404.1"/>
<line x1="639.3" y1="389.4" x2="652.1" y2="407.2"/>
<line x1="835.7" y1="485.3" x2="873.8" y2="509"/>
<line x1="652.2" y1="506.1" x2="766.6" y2="488.4"/>
<line x1="698" y1="540.1" x2="782.2" y2="507.6"/>
<line x1="935.9" y1="544.6" x2="781.4" y2="494.3"/>
<line x1="808.8" y1="577.1" x2="785.2" y2="506.1"/>
<line x1="884.2" y1="605.7" x2="786.7" y2="507.6"/>
<line x1="752.7" y1="630.9" x2="783.7" y2="506.1"/>
</g>
<text class="lb" x="613.11" y="276">Glycochenodeoxycholate</text>
<text class="lb" x="587.77" y="336.9">Glycodeoxycholic acid</text>
<text class="lb" x="692.46" y="364.4">Ursodeoxycholic acid</text>
<text class="lb" x="819.09" y="376.7">DL-valine</text>
<text class="lb" x="614.97" y="388.9">Leucine</text>
<text class="lb" x="665.26" y="483.6">1-o-hexadecyl-2-o-acetyl-sn-glyceryl-3-phosphorylcholine</text>
<text class="lb" x="577.98" y="519.8">Taurochenodeoxycholate</text>
<text class="lb" x="577.15" y="553">1-palmitoyl-sn-glycero-3-phosphocholine</text>
<text class="lb" x="866.2" y="557.6">Glycerophosphocholine</text>
<text class="lb" x="684.72" y="589.5">1-hexadecyl-sn-glycero-3-phosphocholine</text>
<text class="lb" x="773.02" y="618.7">1-oleoyl-sn-glycero-3-phosphocholine</text>
<text class="lb" x="586.45" y="644.5">1-palmitoyl-2-arachidonoyl-sn-glycero-3-phosphocholine</text>
<rect class="fr" x="569" y="74.5" width="447.1" height="588.2"/>
<g class="t">
<line x1="590.9" y1="662.7" x2="590.9" y2="668.7"/>
<line x1="691.6" y1="662.7" x2="691.6" y2="668.7"/>
<line x1="792.3" y1="662.7" x2="792.3" y2="668.7"/>
<line x1="893" y1="662.7" x2="893" y2="668.7"/>
<line x1="993.7" y1="662.7" x2="993.7" y2="668.7"/>
<line x1="563" y1="640.1" x2="569" y2="640.1"/>
<line x1="563" y1="504.3" x2="569" y2="504.3"/>
<line x1="563" y1="368.5" x2="569" y2="368.5"/>
<line x1="563" y1="232.8" x2="569" y2="232.8"/>
<line x1="563" y1="97" x2="569" y2="97"/>
</g>
<text class="tk" text-anchor="middle" x="591.1" y="683.9">-6</text>
<text class="tk" text-anchor="middle" x="691.8" y="683.9">-3</text>
<text class="tk" text-anchor="middle" x="792.5" y="683.9">0</text>
<text class="tk" text-anchor="middle" x="893.2" y="683.9">3</text>
<text class="tk" text-anchor="middle" x="993.9" y="683.9">6</text>
<text class="tk" text-anchor="end" x="559.4" y="645.5">0</text>
<text class="tk" text-anchor="end" x="559.4" y="509.7">1</text>
<text class="tk" text-anchor="end" x="559.4" y="373.9">2</text>
<text class="tk" text-anchor="end" x="559.4" y="238.2">3</text>
<text class="tk" text-anchor="end" x="559.4" y="102.4">4</text>
<text class="ax" x="792.5" y="714.1">log2(FC)</text>
<text class="ax" transform="translate(533.7 369) rotate(-90)">-log10(p value)</text>
</g>
<g>
<text class="pl" x="1080.6" y="41.4">(C)</text>
<text class="tt" x="1322.2" y="63.9">T2-T3</text>
<g class="d">
<line x1="1299" y1="75.9" x2="1299" y2="662.7"/>
<line x1="1307.2" y1="75.9" x2="1307.2" y2="662.7"/>
<line x1="1315.4" y1="75.9" x2="1315.4" y2="662.7"/>
<line x1="1099.1" y1="463.7" x2="1546.6" y2="463.7"/>
</g>
<g class="b">
<circle cx="1318.8" cy="462.5" r="3.6"/><circle cx="1324.9" cy="277" r="3.6"/><circle cx="1320.1" cy="339.6" r="3.6"/><circle cx="1319.3" cy="366.7" r="3.6"/><circle cx="1348.9" cy="360.4" r="3.6"/><circle cx="1339.6" cy="367.6" r="3.6"/><circle cx="1318.1" cy="413.3" r="3.6"/><circle cx="1332" cy="420.9" r="3.6"/><circle cx="1333.7" cy="426" r="3.6"/><circle cx="1354" cy="431.7" r="3.6"/><circle cx="1331.5" cy="430.3" r="3.6"/><circle cx="1319" cy="435.4" r="3.6"/><circle cx="1327.4" cy="438.4" r="3.6"/><circle cx="1324.4" cy="443" r="3.6"/><circle cx="1333.7" cy="446.4" r="3.6"/><circle cx="1405.9" cy="448" r="3.6"/><circle cx="1317.6" cy="455.4" r="3.6"/><circle cx="1320.1" cy="458.2" r="3.6"/><circle cx="1502" cy="445.2" r="3.6"/>
</g>
<g class="r">
<circle cx="1296" cy="458.6" r="3.6"/><circle cx="1299" cy="456.5" r="3.6"/><circle cx="1294" cy="425.7" r="3.6"/><circle cx="1295" cy="451.6" r="3.6"/><circle cx="1294.7" cy="449" r="3.6"/><circle cx="1290.5" cy="390.1" r="3.6"/><circle cx="1295.9" cy="413.7" r="3.6"/><circle cx="1295.6" cy="344.6" r="3.6"/><circle cx="1293.1" cy="361.8" r="3.6"/><circle cx="1293.5" cy="404" r="3.6"/><circle cx="1290.4" cy="358" r="3.6"/><circle cx="1291.9" cy="448.2" r="3.6"/><circle cx="1294.8" cy="350.6" r="3.6"/><circle cx="1295" cy="347.9" r="3.6"/><circle cx="1293.9" cy="346.3" r="3.6"/><circle cx="1290.3" cy="442.4" r="3.6"/><circle cx="1291.5" cy="357.8" r="3.6"/><circle cx="1296.1" cy="442.5" r="3.6"/><circle cx="1292" cy="454" r="3.6"/><circle cx="1293.5" cy="417.4" r="3.6"/><circle cx="1291.5" cy="451.4" r="3.6"/><circle cx="1294.4" cy="454.7" r="3.6"/><circle cx="1295.6" cy="368.5" r="3.6"/><circle cx="1292.4" cy="351.4" r="3.6"/><circle cx="1291.2" cy="338.4" r="3.6"/><circle cx="1292.1" cy="407.8" r="3.6"/><circle cx="1290.3" cy="417.5" r="3.6"/><circle cx="1292.3" cy="370" r="3.6"/><circle cx="1282.9" cy="223.4" r="3.6"/><circle cx="1296.8" cy="229.8" r="3.6"/><circle cx="1284.9" cy="244" r="3.6"/><circle cx="1293.1" cy="265.2" r="3.6"/><circle cx="1297.6" cy="270.3" r="3.6"/><circle cx="1288.3" cy="273.1" r="3.6"/><circle cx="1275.6" cy="275.3" r="3.6"/><circle cx="1290.2" cy="288.4" r="3.6"/><circle cx="1292.7" cy="290.1" r="3.6"/><circle cx="1293.9" cy="297.9" r="3.6"/><circle cx="1288.5" cy="311.2" r="3.6"/><circle cx="1292.2" cy="316.8" r="3.6"/><circle cx="1283.7" cy="321.6" r="3.6"/><circle cx="1297.3" cy="321.6" r="3.6"/><circle cx="1293.9" cy="331.2" r="3.6"/><circle cx="1293" cy="336.6" r="3.6"/><circle cx="1293.9" cy="342.2" r="3.6"/><circle cx="1292.2" cy="346.4" r="3.6"/><circle cx="1288" cy="349.8" r="3.6"/><circle cx="1293" cy="351.5" r="3.6"/><circle cx="1290.5" cy="355.7" r="3.6"/><circle cx="1282.6" cy="358.8" r="3.6"/><circle cx="1298.1" cy="357.9" r="3.6"/><circle cx="1293" cy="359.9" r="3.6"/><circle cx="1291.4" cy="364.2" r="3.6"/><circle cx="1293" cy="369.3" r="3.6"/><circle cx="1290.2" cy="378.1" r="3.6"/><circle cx="1293.6" cy="379.4" r="3.6"/><circle cx="1292.2" cy="387" r="3.6"/><circle cx="1290.5" cy="389.6" r="3.6"/><circle cx="1293.9" cy="393" r="3.6"/><circle cx="1292.2" cy="398" r="3.6"/><circle cx="1291.4" cy="407.3" r="3.6"/><circle cx="1294.7" cy="408.2" r="3.6"/><circle cx="1293" cy="413.3" r="3.6"/><circle cx="1293.9" cy="418.3" r="3.6"/><circle cx="1293" cy="423.4" r="3.6"/><circle cx="1294.7" cy="428.5" r="3.6"/><circle cx="1228.2" cy="418.7" r="3.6"/><circle cx="1297.3" cy="432" r="3.6"/><circle cx="1292.2" cy="432.9" r="3.6"/><circle cx="1294.7" cy="436.2" r="3.6"/><circle cx="1293.9" cy="441.3" r="3.6"/><circle cx="1296.4" cy="445.6" r="3.6"/><circle cx="1293" cy="448.1" r="3.6"/><circle cx="1295.6" cy="452.3" r="3.6"/><circle cx="1282" cy="449.4" r="3.6"/><circle cx="1293.9" cy="456.6" r="3.6"/><circle cx="1289.2" cy="459.6" r="3.6"/><circle cx="1238.4" cy="459.6" r="3.6"/>
</g>
<g class="g">
<circle cx="1313.5" cy="627.5" r="3.8"/><circle cx="1299.6" cy="590.8" r="3.8"/><circle cx="1306.8" cy="631.9" r="3.8"/><circle cx="1289.5" cy="566.7" r="3.8"/><circle cx="1302.3" cy="527.8" r="3.8"/><circle cx="1279.6" cy="562.7" r="3.8"/><circle cx="1305" cy="623" r="3.8"/><circle cx="1298.9" cy="528.6" r="3.8"/><circle cx="1312.1" cy="520.3" r="3.8"/><circle cx="1319.7" cy="570.7" r="3.8"/><circle cx="1316.2" cy="580.9" r="3.8"/><circle cx="1324.9" cy="560.8" r="3.8"/><circle cx="1312.1" cy="514.9" r="3.8"/><circle cx="1311.6" cy="552.7" r="3.8"/><circle cx="1311.8" cy="590.1" r="3.8"/><circle cx="1314.9" cy="604.9" r="3.8"/><circle cx="1316.9" cy="576.9" r="3.8"/><circle cx="1301.7" cy="526.3" r="3.8"/><circle cx="1303.6" cy="591.6" r="3.8"/><circle cx="1317.7" cy="617.7" r="3.8"/><circle cx="1301.5" cy="607.6" r="3.8"/><circle cx="1307.8" cy="620.1" r="3.8"/><circle cx="1309.7" cy="547.1" r="3.8"/><circle cx="1326.8" cy="536.8" r="3.8"/><circle cx="1303.7" cy="565.1" r="3.8"/><circle cx="1309.3" cy="518" r="3.8"/><circle cx="1300.7" cy="527.2" r="3.8"/><circle cx="1308.2" cy="606.3" r="3.8"/><circle cx="1291.5" cy="515.1" r="3.8"/><circle cx="1301.8" cy="591" r="3.8"/><circle cx="1310.9" cy="529.2" r="3.8"/><circle cx="1304.6" cy="613.8" r="3.8"/><circle cx="1316.9" cy="544.8" r="3.8"/><circle cx="1311.2" cy="594.3" r="3.8"/><circle cx="1309.5" cy="615.1" r="3.8"/><circle cx="1300.2" cy="612.5" r="3.8"/><circle cx="1313.3" cy="522.8" r="3.8"/><circle cx="1326.4" cy="567.2" r="3.8"/><circle cx="1308.8" cy="605" r="3.8"/><circle cx="1312.4" cy="632.8" r="3.8"/><circle cx="1309.1" cy="563.3" r="3.8"/><circle cx="1312.6" cy="533.7" r="3.8"/><circle cx="1300.9" cy="626.3" r="3.8"/><circle cx="1305.3" cy="638.3" r="3.8"/><circle cx="1302.2" cy="552.1" r="3.8"/><circle cx="1311.9" cy="628.4" r="3.8"/><circle cx="1316.7" cy="551.4" r="3.8"/><circle cx="1297.7" cy="623.3" r="3.8"/><circle cx="1288" cy="569.7" r="3.8"/><circle cx="1299.3" cy="630.6" r="3.8"/><circle cx="1291.2" cy="552.9" r="3.8"/><circle cx="1309.9" cy="616.8" r="3.8"/><circle cx="1301.9" cy="594.9" r="3.8"/><circle cx="1321.8" cy="527.4" r="3.8"/><circle cx="1310.3" cy="520.9" r="3.8"/><circle cx="1305.5" cy="626.8" r="3.8"/><circle cx="1312.6" cy="597.5" r="3.8"/><circle cx="1317.4" cy="522.9" r="3.8"/><circle cx="1324.6" cy="603.1" r="3.8"/><circle cx="1305.9" cy="615.1" r="3.8"/><circle cx="1314.7" cy="587.2" r="3.8"/><circle cx="1299.7" cy="521" r="3.8"/><circle cx="1314.4" cy="630" r="3.8"/><circle cx="1313" cy="533.9" r="3.8"/><circle cx="1317" cy="538.2" r="3.8"/><circle cx="1300.8" cy="514.5" r="3.8"/><circle cx="1311.5" cy="634.6" r="3.8"/><circle cx="1291.2" cy="563.4" r="3.8"/><circle cx="1300.8" cy="606.9" r="3.8"/><circle cx="1309" cy="623.4" r="3.8"/><circle cx="1302.3" cy="617.4" r="3.8"/><circle cx="1306.1" cy="627.7" r="3.8"/><circle cx="1313.7" cy="625.5" r="3.8"/><circle cx="1309.8" cy="608.4" r="3.8"/><circle cx="1291.2" cy="558.3" r="3.8"/><circle cx="1298.8" cy="564.8" r="3.8"/><circle cx="1312.7" cy="615.9" r="3.8"/><circle cx="1311.5" cy="562.4" r="3.8"/><circle cx="1303.9" cy="624.6" r="3.8"/><circle cx="1314.7" cy="563.1" r="3.8"/><circle cx="1310.5" cy="615.1" r="3.8"/><circle cx="1309.2" cy="637.5" r="3.8"/><circle cx="1297.3" cy="622.7" r="3.8"/><circle cx="1294" cy="560.6" r="3.8"/><circle cx="1298.8" cy="559.7" r="3.8"/><circle cx="1301.1" cy="520.2" r="3.8"/><circle cx="1291.6" cy="541.2" r="3.8"/><circle cx="1313.1" cy="533.7" r="3.8"/><circle cx="1298.8" cy="608.2" r="3.8"/><circle cx="1312.1" cy="541.4" r="3.8"/><circle cx="1303.2" cy="632.9" r="3.8"/><circle cx="1307.3" cy="536.4" r="3.8"/><circle cx="1300" cy="521.7" r="3.8"/><circle cx="1308.5" cy="634" r="3.8"/><circle cx="1306.7" cy="624.2" r="3.8"/><circle cx="1310.4" cy="636.3" r="3.8"/><circle cx="1307.1" cy="637.9" r="3.8"/><circle cx="1299.8" cy="529.6" r="3.8"/><circle cx="1291.1" cy="573.4" r="3.8"/><circle cx="1299.7" cy="523" r="3.8"/><circle cx="1300.3" cy="604.8" r="3.8"/><circle cx="1290.2" cy="534.3" r="3.8"/><circle cx="1315.9" cy="575.5" r="3.8"/><circle cx="1304.8" cy="634.1" r="3.8"/><circle cx="1315.1" cy="628.5" r="3.8"/><circle cx="1310.9" cy="631" r="3.8"/><circle cx="1295.1" cy="555.5" r="3.8"/><circle cx="1314.5" cy="552.1" r="3.8"/><circle cx="1320.3" cy="587.9" r="3.8"/><circle cx="1308.1" cy="628.4" r="3.8"/><circle cx="1299.2" cy="517" r="3.8"/><circle cx="1323.1" cy="608.8" r="3.8"/><circle cx="1309.6" cy="633.4" r="3.8"/><circle cx="1302.5" cy="631.2" r="3.8"/><circle cx="1293.4" cy="565" r="3.8"/><circle cx="1309.6" cy="560.1" r="3.8"/><circle cx="1315.3" cy="565.2" r="3.8"/><circle cx="1312.8" cy="541" r="3.8"/><circle cx="1302.2" cy="535.9" r="3.8"/><circle cx="1302.5" cy="528.2" r="3.8"/><circle cx="1304.4" cy="617.2" r="3.8"/><circle cx="1304.9" cy="613.2" r="3.8"/><circle cx="1287.9" cy="579.2" r="3.8"/><circle cx="1319" cy="535" r="3.8"/><circle cx="1313.1" cy="633.3" r="3.8"/><circle cx="1318.9" cy="561.1" r="3.8"/><circle cx="1302.3" cy="542.5" r="3.8"/><circle cx="1300" cy="571.6" r="3.8"/><circle cx="1327.7" cy="533.2" r="3.8"/><circle cx="1310" cy="598.5" r="3.8"/><circle cx="1306.4" cy="634.8" r="3.8"/><circle cx="1294" cy="616.8" r="3.8"/><circle cx="1286.4" cy="541.3" r="3.8"/><circle cx="1318" cy="537.1" r="3.8"/><circle cx="1313.2" cy="620.8" r="3.8"/><circle cx="1313.5" cy="629.9" r="3.8"/><circle cx="1305.7" cy="634" r="3.8"/><circle cx="1323" cy="552.5" r="3.8"/><circle cx="1303.5" cy="551.9" r="3.8"/><circle cx="1312.6" cy="605.7" r="3.8"/><circle cx="1310.4" cy="602.9" r="3.8"/><circle cx="1300.9" cy="617.9" r="3.8"/><circle cx="1302.7" cy="579.1" r="3.8"/><circle cx="1297.3" cy="613" r="3.8"/><circle cx="1294.5" cy="591.8" r="3.8"/><circle cx="1319.1" cy="571.4" r="3.8"/><circle cx="1303.3" cy="526.6" r="3.8"/><circle cx="1308.4" cy="575.5" r="3.8"/><circle cx="1318.6" cy="551.3" r="3.8"/><circle cx="1329" cy="534.2" r="3.8"/><circle cx="1300.9" cy="626.1" r="3.8"/><circle cx="1303.9" cy="571.4" r="3.8"/><circle cx="1314.5" cy="563.9" r="3.8"/><circle cx="1302.4" cy="544.4" r="3.8"/><circle cx="1313.5" cy="613.6" r="3.8"/><circle cx="1296.7" cy="545.3" r="3.8"/><circle cx="1288.2" cy="560.1" r="3.8"/><circle cx="1299.6" cy="537.2" r="3.8"/><circle cx="1303.6" cy="570.2" r="3.8"/><circle cx="1294.8" cy="541.8" r="3.8"/><circle cx="1305.1" cy="624.6" r="3.8"/><circle cx="1290" cy="555.2" r="3.8"/><circle cx="1316.7" cy="513.6" r="3.8"/><circle cx="1303.4" cy="612.1" r="3.8"/><circle cx="1302" cy="585.7" r="3.8"/><circle cx="1306.1" cy="572.2" r="3.8"/><circle cx="1313.1" cy="607.5" r="3.8"/><circle cx="1323.4" cy="532.4" r="3.8"/><circle cx="1300.9" cy="613.1" r="3.8"/><circle cx="1311.9" cy="592.1" r="3.8"/><circle cx="1313.8" cy="540.7" r="3.8"/><circle cx="1307.1" cy="629.6" r="3.8"/><circle cx="1295.5" cy="556.2" r="3.8"/><circle cx="1313.2" cy="527.1" r="3.8"/><circle cx="1289.7" cy="541.2" r="3.8"/><circle cx="1305.9" cy="636.2" r="3.8"/><circle cx="1301.3" cy="557.3" r="3.8"/><circle cx="1300.2" cy="623.1" r="3.8"/><circle cx="1310.1" cy="555.2" r="3.8"/><circle cx="1317.2" cy="601" r="3.8"/><circle cx="1300.2" cy="547.6" r="3.8"/><circle cx="1288.5" cy="571.7" r="3.8"/><circle cx="1302" cy="514.9" r="3.8"/><circle cx="1286.9" cy="542" r="3.8"/><circle cx="1307.2" cy="618.9" r="3.8"/><circle cx="1304.7" cy="579.5" r="3.8"/><circle cx="1305.5" cy="630" r="3.8"/><circle cx="1308.8" cy="635.4" r="3.8"/><circle cx="1319.9" cy="601.2" r="3.8"/><circle cx="1310.2" cy="613.3" r="3.8"/><circle cx="1288.9" cy="549.8" r="3.8"/><circle cx="1323.8" cy="524.6" r="3.8"/><circle cx="1310.5" cy="562.3" r="3.8"/><circle cx="1299.3" cy="622.3" r="3.8"/><circle cx="1302.2" cy="623.4" r="3.8"/><circle cx="1297.7" cy="594.3" r="3.8"/><circle cx="1310.9" cy="603.9" r="3.8"/><circle cx="1318.7" cy="585.4" r="3.8"/><circle cx="1301.9" cy="599.2" r="3.8"/><circle cx="1312.2" cy="635.3" r="3.8"/><circle cx="1280.6" cy="549.7" r="3.8"/><circle cx="1322.3" cy="554.9" r="3.8"/><circle cx="1279.2" cy="546.8" r="3.8"/><circle cx="1312.8" cy="593.1" r="3.8"/><circle cx="1311.8" cy="556.2" r="3.8"/><circle cx="1293.1" cy="517.2" r="3.8"/><circle cx="1312" cy="592.5" r="3.8"/><circle cx="1314.5" cy="569" r="3.8"/><circle cx="1326.2" cy="579.4" r="3.8"/><circle cx="1289.6" cy="584.3" r="3.8"/><circle cx="1307.6" cy="633.8" r="3.8"/><circle cx="1302.5" cy="621.3" r="3.8"/><circle cx="1293.2" cy="554.8" r="3.8"/><circle cx="1303" cy="595.1" r="3.8"/><circle cx="1302.3" cy="529.5" r="3.8"/><circle cx="1312.7" cy="543.8" r="3.8"/><circle cx="1300.1" cy="630.1" r="3.8"/><circle cx="1308.9" cy="559.4" r="3.8"/><circle cx="1317" cy="594.4" r="3.8"/><circle cx="1320" cy="530.3" r="3.8"/><circle cx="1298.9" cy="567.6" r="3.8"/><circle cx="1293.1" cy="596.2" r="3.8"/><circle cx="1311.5" cy="566.6" r="3.8"/><circle cx="1299.4" cy="524.4" r="3.8"/><circle cx="1302.1" cy="539.8" r="3.8"/><circle cx="1295.1" cy="566" r="3.8"/><circle cx="1313.3" cy="550.7" r="3.8"/><circle cx="1318.1" cy="538.6" r="3.8"/><circle cx="1310.2" cy="629.8" r="3.8"/><circle cx="1318.5" cy="622.4" r="3.8"/><circle cx="1291" cy="569.5" r="3.8"/><circle cx="1307.9" cy="605.5" r="3.8"/><circle cx="1311.5" cy="608.5" r="3.8"/><circle cx="1299.9" cy="555.1" r="3.8"/><circle cx="1307.2" cy="634" r="3.8"/><circle cx="1315.7" cy="516.3" r="3.8"/><circle cx="1306" cy="639" r="3.8"/><circle cx="1293.9" cy="531.1" r="3.8"/><circle cx="1305.7" cy="617.5" r="3.8"/><circle cx="1304" cy="612" r="3.8"/><circle cx="1302.8" cy="615" r="3.8"/><circle cx="1296.9" cy="574.3" r="3.8"/><circle cx="1296.1" cy="582.9" r="3.8"/><circle cx="1296" cy="564.3" r="3.8"/><circle cx="1314.1" cy="576" r="3.8"/><circle cx="1320.3" cy="532.2" r="3.8"/><circle cx="1317.3" cy="624" r="3.8"/><circle cx="1315.2" cy="618.5" r="3.8"/><circle cx="1284.5" cy="547" r="3.8"/><circle cx="1298.4" cy="523.1" r="3.8"/><circle cx="1298.3" cy="553.7" r="3.8"/><circle cx="1310.2" cy="624.9" r="3.8"/><circle cx="1314.7" cy="563.5" r="3.8"/><circle cx="1322.3" cy="517.7" r="3.8"/><circle cx="1291" cy="560.8" r="3.8"/><circle cx="1318.4" cy="585.4" r="3.8"/><circle cx="1296.7" cy="604.8" r="3.8"/><circle cx="1293.1" cy="570.3" r="3.8"/><circle cx="1309.1" cy="531.4" r="3.8"/><circle cx="1309.5" cy="622.8" r="3.8"/><circle cx="1312.3" cy="561.4" r="3.8"/><circle cx="1297.1" cy="573" r="3.8"/><circle cx="1330.2" cy="537.3" r="3.8"/><circle cx="1303.4" cy="531.4" r="3.8"/><circle cx="1291.1" cy="546.2" r="3.8"/><circle cx="1307.2" cy="539.6" r="3.8"/><circle cx="1309.5" cy="595.1" r="3.8"/><circle cx="1312.1" cy="585.2" r="3.8"/><circle cx="1304.9" cy="535.7" r="3.8"/><circle cx="1315.8" cy="586" r="3.8"/><circle cx="1314.9" cy="537.8" r="3.8"/><circle cx="1309.9" cy="570.5" r="3.8"/><circle cx="1296.5" cy="610" r="3.8"/><circle cx="1284.8" cy="546.8" r="3.8"/><circle cx="1310.9" cy="594.7" r="3.8"/><circle cx="1302.6" cy="623.9" r="3.8"/><circle cx="1298.8" cy="610.5" r="3.8"/><circle cx="1313.2" cy="563.5" r="3.8"/><circle cx="1300.1" cy="592" r="3.8"/><circle cx="1304.9" cy="546.6" r="3.8"/><circle cx="1312.2" cy="559.9" r="3.8"/><circle cx="1321.4" cy="584" r="3.8"/><circle cx="1301.3" cy="621.1" r="3.8"/><circle cx="1314.5" cy="578.6" r="3.8"/><circle cx="1302.6" cy="600.9" r="3.8"/><circle cx="1295.1" cy="559" r="3.8"/><circle cx="1311.7" cy="554.4" r="3.8"/><circle cx="1313.7" cy="595.5" r="3.8"/><circle cx="1298.5" cy="549.1" r="3.8"/><circle cx="1316.9" cy="527.6" r="3.8"/><circle cx="1301.2" cy="576" r="3.8"/><circle cx="1308.5" cy="623.1" r="3.8"/><circle cx="1301.1" cy="522.5" r="3.8"/><circle cx="1318.2" cy="543" r="3.8"/><circle cx="1322.7" cy="589.9" r="3.8"/><circle cx="1305.9" cy="618" r="3.8"/><circle cx="1300.1" cy="596.4" r="3.8"/><circle cx="1290.6" cy="540.1" r="3.8"/><circle cx="1301.3" cy="537.5" r="3.8"/><circle cx="1315.7" cy="540.5" r="3.8"/><circle cx="1304.8" cy="627.1" r="3.8"/><circle cx="1319" cy="546.9" r="3.8"/><circle cx="1302.7" cy="607.5" r="3.8"/><circle cx="1313.6" cy="553.3" r="3.8"/><circle cx="1316.8" cy="533" r="3.8"/><circle cx="1322.7" cy="552.9" r="3.8"/><circle cx="1317.3" cy="517.8" r="3.8"/><circle cx="1285.7" cy="569.8" r="3.8"/><circle cx="1293.4" cy="578.1" r="3.8"/><circle cx="1298.6" cy="602.9" r="3.8"/><circle cx="1303" cy="596.2" r="3.8"/><circle cx="1310.7" cy="593.3" r="3.8"/><circle cx="1308.5" cy="616.1" r="3.8"/><circle cx="1309.5" cy="617.2" r="3.8"/><circle cx="1298.7" cy="587.2" r="3.8"/><circle cx="1302" cy="525.5" r="3.8"/><circle cx="1305.1" cy="588.3" r="3.8"/><circle cx="1292.8" cy="563.9" r="3.8"/><circle cx="1320.4" cy="557.6" r="3.8"/><circle cx="1317.6" cy="569.3" r="3.8"/><circle cx="1315.4" cy="569.1" r="3.8"/><circle cx="1308.7" cy="621" r="3.8"/><circle cx="1299.2" cy="555.1" r="3.8"/><circle cx="1301.7" cy="611.9" r="3.8"/><circle cx="1324.6" cy="552.9" r="3.8"/><circle cx="1314.8" cy="622.2" r="3.8"/><circle cx="1315.2" cy="553.8" r="3.8"/><circle cx="1308" cy="630.9" r="3.8"/><circle cx="1292.1" cy="517.4" r="3.8"/><circle cx="1319.2" cy="593.7" r="3.8"/><circle cx="1298.9" cy="532.4" r="3.8"/><circle cx="1320" cy="524.8" r="3.8"/><circle cx="1306.4" cy="621.3" r="3.8"/><circle cx="1300.6" cy="553.2" r="3.8"/><circle cx="1314.8" cy="612.1" r="3.8"/><circle cx="1297.8" cy="516.3" r="3.8"/><circle cx="1310.8" cy="595.6" r="3.8"/><circle cx="1311.2" cy="627.4" r="3.8"/><circle cx="1300.9" cy="554.6" r="3.8"/><circle cx="1295" cy="548" r="3.8"/><circle cx="1318.9" cy="616.6" r="3.8"/><circle cx="1315.8" cy="617.2" r="3.8"/><circle cx="1314.1" cy="544.5" r="3.8"/><circle cx="1298.4" cy="515.3" r="3.8"/><circle cx="1304" cy="610" r="3.8"/><circle cx="1321.7" cy="528" r="3.8"/><circle cx="1296.3" cy="551.6" r="3.8"/><circle cx="1303.4" cy="615.6" r="3.8"/><circle cx="1316.8" cy="621.8" r="3.8"/><circle cx="1296.6" cy="555.5" r="3.8"/><circle cx="1297.4" cy="568.5" r="3.8"/><circle cx="1308.4" cy="634.2" r="3.8"/><circle cx="1285.2" cy="552.3" r="3.8"/><circle cx="1309.1" cy="633.4" r="3.8"/><circle cx="1304.6" cy="608.9" r="3.8"/><circle cx="1320.4" cy="557.8" r="3.8"/><circle cx="1307.6" cy="546.8" r="3.8"/><circle cx="1312.1" cy="598.6" r="3.8"/><circle cx="1291.5" cy="571.9" r="3.8"/><circle cx="1297.6" cy="535.5" r="3.8"/><circle cx="1314.7" cy="515.3" r="3.8"/><circle cx="1313" cy="590.9" r="3.8"/><circle cx="1316" cy="523.8" r="3.8"/><circle cx="1300.6" cy="569.2" r="3.8"/><circle cx="1297" cy="547.5" r="3.8"/><circle cx="1319.9" cy="577.1" r="3.8"/><circle cx="1318.4" cy="584.3" r="3.8"/><circle cx="1312.5" cy="588.3" r="3.8"/><circle cx="1313.4" cy="614.2" r="3.8"/><circle cx="1294.7" cy="548.1" r="3.8"/><circle cx="1306.4" cy="619.9" r="3.8"/><circle cx="1295.7" cy="562.6" r="3.8"/><circle cx="1309.3" cy="615.5" r="3.8"/><circle cx="1314.1" cy="597.3" r="3.8"/><circle cx="1309.5" cy="624.9" r="3.8"/><circle cx="1305.6" cy="584.9" r="3.8"/><circle cx="1312.1" cy="580.1" r="3.8"/><circle cx="1312.3" cy="631" r="3.8"/><circle cx="1293.2" cy="597.7" r="3.8"/><circle cx="1320.6" cy="599.4" r="3.8"/><circle cx="1314.3" cy="626.5" r="3.8"/><circle cx="1299.3" cy="626.8" r="3.8"/><circle cx="1306.1" cy="617.8" r="3.8"/><circle cx="1311.3" cy="600.1" r="3.8"/><circle cx="1316.3" cy="537.5" r="3.8"/><circle cx="1297.9" cy="616.7" r="3.8"/><circle cx="1293.3" cy="573.6" r="3.8"/><circle cx="1300.3" cy="518.2" r="3.8"/><circle cx="1299.1" cy="603.6" r="3.8"/><circle cx="1308.4" cy="633.8" r="3.8"/><circle cx="1298" cy="562.1" r="3.8"/><circle cx="1309.1" cy="623.5" r="3.8"/><circle cx="1296.1" cy="585" r="3.8"/><circle cx="1294.7" cy="554.3" r="3.8"/><circle cx="1309.1" cy="629.2" r="3.8"/><circle cx="1312.9" cy="524.1" r="3.8"/><circle cx="1330" cy="534" r="3.8"/><circle cx="1319.2" cy="529" r="3.8"/><circle cx="1315.7" cy="525.2" r="3.8"/><circle cx="1300.3" cy="614" r="3.8"/><circle cx="1304.3" cy="544.8" r="3.8"/><circle cx="1322.6" cy="563.6" r="3.8"/><circle cx="1308.8" cy="542.5" r="3.8"/><circle cx="1294.8" cy="542.2" r="3.8"/><circle cx="1295.2" cy="600.4" r="3.8"/><circle cx="1318.6" cy="555" r="3.8"/><circle cx="1293.9" cy="536.3" r="3.8"/><circle cx="1319.8" cy="591.1" r="3.8"/><circle cx="1327.9" cy="542.7" r="3.8"/><circle cx="1289.6" cy="517.5" r="3.8"/><circle cx="1309" cy="572.5" r="3.8"/><circle cx="1293.5" cy="599.3" r="3.8"/><circle cx="1305.1" cy="610.1" r="3.8"/><circle cx="1315.2" cy="633.2" r="3.8"/><circle cx="1302.6" cy="627.3" r="3.8"/><circle cx="1310.4" cy="601.5" r="3.8"/><circle cx="1305.8" cy="617.8" r="3.8"/><circle cx="1309.2" cy="623.2" r="3.8"/><circle cx="1304" cy="593.4" r="3.8"/><circle cx="1292" cy="541.2" r="3.8"/><circle cx="1293.9" cy="524" r="3.8"/><circle cx="1293.1" cy="561.6" r="3.8"/><circle cx="1295" cy="573" r="3.8"/><circle cx="1286.8" cy="562.4" r="3.8"/><circle cx="1302.1" cy="567" r="3.8"/><circle cx="1301.4" cy="560.4" r="3.8"/><circle cx="1297.5" cy="619.2" r="3.8"/><circle cx="1324" cy="533.3" r="3.8"/><circle cx="1299.3" cy="522.7" r="3.8"/><circle cx="1314.7" cy="563.7" r="3.8"/><circle cx="1318.7" cy="621.3" r="3.8"/><circle cx="1304" cy="628.9" r="3.8"/><circle cx="1305.3" cy="566.8" r="3.8"/><circle cx="1293.9" cy="563" r="3.8"/><circle cx="1306.3" cy="631.6" r="3.8"/><circle cx="1301.3" cy="583.5" r="3.8"/><circle cx="1303" cy="605.5" r="3.8"/><circle cx="1312.8" cy="593.8" r="3.8"/><circle cx="1309.8" cy="617.1" r="3.8"/><circle cx="1313.5" cy="617.7" r="3.8"/><circle cx="1325.3" cy="547.3" r="3.8"/><circle cx="1306.7" cy="632" r="3.8"/><circle cx="1304.9" cy="584.2" r="3.8"/><circle cx="1314.6" cy="528.1" r="3.8"/><circle cx="1306.5" cy="566.6" r="3.8"/><circle cx="1317.4" cy="558.4" r="3.8"/><circle cx="1317" cy="583.6" r="3.8"/><circle cx="1312.7" cy="580.6" r="3.8"/><circle cx="1314.7" cy="600" r="3.8"/><circle cx="1309.2" cy="558.1" r="3.8"/><circle cx="1308.9" cy="633.5" r="3.8"/><circle cx="1315.3" cy="592.3" r="3.8"/><circle cx="1304.4" cy="630" r="3.8"/><circle cx="1312.6" cy="604.3" r="3.8"/><circle cx="1301.9" cy="607.1" r="3.8"/><circle cx="1305.9" cy="636.3" r="3.8"/><circle cx="1302.1" cy="625.6" r="3.8"/><circle cx="1304.8" cy="620.2" r="3.8"/><circle cx="1306.7" cy="638.1" r="3.8"/><circle cx="1305.6" cy="517.9" r="3.8"/><circle cx="1298.5" cy="611" r="3.8"/><circle cx="1296.2" cy="582.6" r="3.8"/><circle cx="1310" cy="523.4" r="3.8"/><circle cx="1311.2" cy="612.4" r="3.8"/><circle cx="1311.4" cy="629.4" r="3.8"/><circle cx="1312.3" cy="574.9" r="3.8"/><circle cx="1316.9" cy="577.3" r="3.8"/><circle cx="1308.8" cy="608.5" r="3.8"/><circle cx="1295.4" cy="543.5" r="3.8"/><circle cx="1322.1" cy="597.4" r="3.8"/><circle cx="1299.9" cy="619.7" r="3.8"/><circle cx="1318.7" cy="581.1" r="3.8"/><circle cx="1312.8" cy="588" r="3.8"/><circle cx="1312.9" cy="561.8" r="3.8"/><circle cx="1305.8" cy="630.8" r="3.8"/><circle cx="1302.8" cy="610" r="3.8"/><circle cx="1305.4" cy="555" r="3.8"/><circle cx="1309.5" cy="634.8" r="3.8"/><circle cx="1310.8" cy="565.5" r="3.8"/><circle cx="1294.2" cy="613" r="3.8"/><circle cx="1321.9" cy="552.1" r="3.8"/><circle cx="1303" cy="605.5" r="3.8"/><circle cx="1309.3" cy="614.4" r="3.8"/><circle cx="1313.6" cy="631.6" r="3.8"/><circle cx="1300.6" cy="529" r="3.8"/><circle cx="1307.2" cy="629.5" r="3.8"/><circle cx="1293.2" cy="614.2" r="3.8"/><circle cx="1306.8" cy="540.7" r="3.8"/><circle cx="1324.4" cy="590.1" r="3.8"/><circle cx="1326.1" cy="592.2" r="3.8"/><circle cx="1299.9" cy="591" r="3.8"/><circle cx="1316.5" cy="536.4" r="3.8"/><circle cx="1284.2" cy="555.2" r="3.8"/><circle cx="1301.9" cy="610" r="3.8"/><circle cx="1300.8" cy="513" r="3.8"/><circle cx="1313.4" cy="603.5" r="3.8"/><circle cx="1318.1" cy="591.1" r="3.8"/><circle cx="1293.9" cy="523.7" r="3.8"/><circle cx="1302.7" cy="548.4" r="3.8"/><circle cx="1318.9" cy="537.4" r="3.8"/><circle cx="1313.3" cy="564" r="3.8"/><circle cx="1285.3" cy="533.5" r="3.8"/><circle cx="1285.8" cy="569.7" r="3.8"/><circle cx="1293" cy="516.2" r="3.8"/><circle cx="1316" cy="577.7" r="3.8"/><circle cx="1311.2" cy="553.3" r="3.8"/><circle cx="1300.7" cy="520.3" r="3.8"/><circle cx="1319.2" cy="556.2" r="3.8"/><circle cx="1301.9" cy="533.9" r="3.8"/><circle cx="1315.4" cy="541.9" r="3.8"/><circle cx="1320.7" cy="549.6" r="3.8"/><circle cx="1293.3" cy="572.3" r="3.8"/><circle cx="1300.1" cy="559.3" r="3.8"/><circle cx="1297" cy="568.3" r="3.8"/><circle cx="1285.1" cy="553.8" r="3.8"/><circle cx="1299.5" cy="516.9" r="3.8"/><circle cx="1289.4" cy="552.9" r="3.8"/><circle cx="1302.8" cy="577.4" r="3.8"/><circle cx="1314.6" cy="611" r="3.8"/><circle cx="1305.4" cy="636.1" r="3.8"/><circle cx="1311.2" cy="567.3" r="3.8"/><circle cx="1317.3" cy="561.2" r="3.8"/><circle cx="1296.4" cy="596.7" r="3.8"/><circle cx="1310.9" cy="611.3" r="3.8"/><circle cx="1319.2" cy="534.2" r="3.8"/><circle cx="1303.8" cy="637.2" r="3.8"/><circle cx="1315.5" cy="619.6" r="3.8"/><circle cx="1312.8" cy="574.2" r="3.8"/><circle cx="1278.9" cy="559.9" r="3.8"/><circle cx="1298.9" cy="556.9" r="3.8"/><circle cx="1302.7" cy="613.5" r="3.8"/><circle cx="1302.3" cy="588.8" r="3.8"/><circle cx="1301.5" cy="599.6" r="3.8"/><circle cx="1323" cy="559.4" r="3.8"/><circle cx="1298.8" cy="612.5" r="3.8"/><circle cx="1305.2" cy="624.8" r="3.8"/><circle cx="1310.2" cy="524.1" r="3.8"/><circle cx="1321.6" cy="555.3" r="3.8"/><circle cx="1279.9" cy="563.4" r="3.8"/><circle cx="1304.4" cy="609.8" r="3.8"/><circle cx="1308.3" cy="633.2" r="3.8"/><circle cx="1296.4" cy="558" r="3.8"/><circle cx="1298.9" cy="601" r="3.8"/><circle cx="1323.9" cy="604.4" r="3.8"/><circle cx="1301.6" cy="524.3" r="3.8"/><circle cx="1287.3" cy="554.6" r="3.8"/><circle cx="1300.8" cy="530.6" r="3.8"/><circle cx="1294.6" cy="590.2" r="3.8"/><circle cx="1290.5" cy="561.8" r="3.8"/><circle cx="1301" cy="602.1" r="3.8"/><circle cx="1299.2" cy="602" r="3.8"/><circle cx="1299" cy="553.7" r="3.8"/><circle cx="1314.7" cy="552.7" r="3.8"/><circle cx="1297.2" cy="613" r="3.8"/><circle cx="1319.5" cy="587.1" r="3.8"/><circle cx="1292.9" cy="573" r="3.8"/><circle cx="1313" cy="587.7" r="3.8"/><circle cx="1311.1" cy="610.9" r="3.8"/><circle cx="1318" cy="520.7" r="3.8"/><circle cx="1314.9" cy="514.1" r="3.8"/><circle cx="1306.1" cy="638.5" r="3.8"/><circle cx="1311.9" cy="617.1" r="3.8"/><circle cx="1303.5" cy="538.9" r="3.8"/><circle cx="1307" cy="632.1" r="3.8"/><circle cx="1314.4" cy="616.8" r="3.8"/><circle cx="1316.5" cy="605.4" r="3.8"/><circle cx="1307.9" cy="625.1" r="3.8"/><circle cx="1306.6" cy="634" r="3.8"/><circle cx="1311" cy="593.5" r="3.8"/><circle cx="1312.6" cy="524" r="3.8"/><circle cx="1321.7" cy="533.8" r="3.8"/><circle cx="1316.1" cy="558.1" r="3.8"/><circle cx="1288" cy="583.2" r="3.8"/><circle cx="1296.7" cy="539.3" r="3.8"/><circle cx="1300.9" cy="568.9" r="3.8"/><circle cx="1313.3" cy="548.5" r="3.8"/><circle cx="1301.2" cy="563.1" r="3.8"/><circle cx="1299.6" cy="543.8" r="3.8"/><circle cx="1301.4" cy="536.6" r="3.8"/><circle cx="1302.3" cy="523.4" r="3.8"/><circle cx="1327.3" cy="546" r="3.8"/><circle cx="1294.6" cy="544.8" r="3.8"/><circle cx="1289.9" cy="579.5" r="3.8"/><circle cx="1283.6" cy="561.8" r="3.8"/><circle cx="1314" cy="592.4" r="3.8"/><circle cx="1297.9" cy="624.8" r="3.8"/><circle cx="1310.5" cy="633" r="3.8"/><circle cx="1309.6" cy="541.8" r="3.8"/><circle cx="1297.9" cy="529.2" r="3.8"/><circle cx="1319.6" cy="570.5" r="3.8"/><circle cx="1301" cy="583.2" r="3.8"/><circle cx="1310.4" cy="605.7" r="3.8"/><circle cx="1315.8" cy="611.1" r="3.8"/><circle cx="1303.5" cy="535.3" r="3.8"/><circle cx="1307.5" cy="615.5" r="3.8"/><circle cx="1316.6" cy="537.9" r="3.8"/><circle cx="1306.5" cy="634.6" r="3.8"/><circle cx="1315.3" cy="593.3" r="3.8"/><circle cx="1308.1" cy="624.9" r="3.8"/><circle cx="1303.8" cy="586" r="3.8"/><circle cx="1285.4" cy="538.7" r="3.8"/><circle cx="1290.2" cy="586.4" r="3.8"/><circle cx="1316.7" cy="617.3" r="3.8"/><circle cx="1308.6" cy="626" r="3.8"/><circle cx="1324.3" cy="532.4" r="3.8"/><circle cx="1295.7" cy="560.9" r="3.8"/><circle cx="1303.1" cy="548.6" r="3.8"/><circle cx="1307.7" cy="628.2" r="3.8"/><circle cx="1298.6" cy="619.8" r="3.8"/><circle cx="1311.7" cy="634.4" r="3.8"/><circle cx="1315.2" cy="580.7" r="3.8"/><circle cx="1307" cy="625" r="3.8"/><circle cx="1325.8" cy="559" r="3.8"/><circle cx="1320.7" cy="553.6" r="3.8"/><circle cx="1301.3" cy="576.5" r="3.8"/><circle cx="1297.9" cy="561.9" r="3.8"/><circle cx="1312.8" cy="515.5" r="3.8"/><circle cx="1316.3" cy="601.3" r="3.8"/><circle cx="1313.5" cy="608.2" r="3.8"/><circle cx="1296.4" cy="535.2" r="3.8"/><circle cx="1295.1" cy="595.1" r="3.8"/><circle cx="1301.3" cy="578.8" r="3.8"/><circle cx="1310.8" cy="611.5" r="3.8"/><circle cx="1305.9" cy="627.2" r="3.8"/><circle cx="1328.2" cy="567.2" r="3.8"/><circle cx="1312" cy="634.2" r="3.8"/><circle cx="1319.1" cy="521.6" r="3.8"/><circle cx="1320.9" cy="541.7" r="3.8"/><circle cx="1315.7" cy="593.4" r="3.8"/><circle cx="1300.6" cy="608.1" r="3.8"/><circle cx="1306" cy="618.9" r="3.8"/><circle cx="1305.4" cy="608.5" r="3.8"/><circle cx="1308.4" cy="578.7" r="3.8"/><circle cx="1298" cy="628.5" r="3.8"/><circle cx="1299.7" cy="555.8" r="3.8"/><circle cx="1310.2" cy="613.9" r="3.8"/><circle cx="1302.1" cy="529.3" r="3.8"/><circle cx="1310.5" cy="610.3" r="3.8"/><circle cx="1302.5" cy="613.3" r="3.8"/><circle cx="1310.2" cy="622.4" r="3.8"/><circle cx="1294.3" cy="464.3" r="3.8"/><circle cx="1296.8" cy="467.7" r="3.8"/><circle cx="1293.4" cy="471.1" r="3.8"/><circle cx="1297.7" cy="473.6" r="3.8"/><circle cx="1301.9" cy="477" r="3.8"/><circle cx="1294.3" cy="476.2" r="3.8"/><circle cx="1296" cy="482.9" r="3.8"/><circle cx="1301" cy="484.6" r="3.8"/><circle cx="1293.4" cy="486.3" r="3.8"/><circle cx="1285.8" cy="488" r="3.8"/><circle cx="1294.3" cy="491.4" r="3.8"/><circle cx="1300.2" cy="492.3" r="3.8"/><circle cx="1293.4" cy="497.3" r="3.8"/><circle cx="1298.5" cy="497.3" r="3.8"/><circle cx="1301.9" cy="495.6" r="3.8"/><circle cx="1294.3" cy="502.4" r="3.8"/><circle cx="1299.4" cy="502.4" r="3.8"/><circle cx="1290" cy="506.7" r="3.8"/><circle cx="1296" cy="507.5" r="3.8"/><circle cx="1301" cy="506.7" r="3.8"/><circle cx="1289.2" cy="511.7" r="3.8"/><circle cx="1294.3" cy="512.6" r="3.8"/><circle cx="1300.2" cy="511.7" r="3.8"/><circle cx="1305.3" cy="513.4" r="3.8"/><circle cx="1298" cy="479.5" r="3.8"/><circle cx="1297" cy="488.5" r="3.8"/><circle cx="1314.6" cy="463" r="3.8"/><circle cx="1314.6" cy="468.5" r="3.8"/><circle cx="1322.2" cy="469.4" r="3.8"/><circle cx="1318.8" cy="471.9" r="3.8"/><circle cx="1313.7" cy="492.3" r="3.8"/><circle cx="1318" cy="491.4" r="3.8"/><circle cx="1325.6" cy="496.5" r="3.8"/><circle cx="1312.9" cy="497.3" r="3.8"/><circle cx="1318" cy="498.2" r="3.8"/><circle cx="1310.4" cy="503.3" r="3.8"/><circle cx="1315.4" cy="503.3" r="3.8"/><circle cx="1329" cy="506.7" r="3.8"/><circle cx="1323.9" cy="507.5" r="3.8"/><circle cx="1318.8" cy="509.2" r="3.8"/><circle cx="1313.7" cy="510.9" r="3.8"/><circle cx="1308.7" cy="512.6" r="3.8"/><circle cx="1334.9" cy="512.6" r="3.8"/><circle cx="1316" cy="481.5" r="3.8"/><circle cx="1320" cy="485" r="3.8"/><circle cx="1312.9" cy="288.4" r="3.8"/><circle cx="1315.1" cy="317.2" r="3.8"/><circle cx="1314.6" cy="385.7" r="3.8"/><circle cx="1300.2" cy="411.2" r="3.8"/><circle cx="1299" cy="418.3" r="3.8"/><circle cx="1300.3" cy="425.1" r="3.8"/><circle cx="1312.5" cy="443" r="3.8"/><circle cx="1279" cy="464.2" r="3.8"/><circle cx="1315.1" cy="462.5" r="3.8"/><circle cx="1321" cy="469.3" r="3.8"/><circle cx="1314.2" cy="469.3" r="3.8"/><circle cx="1519.1" cy="573.2" r="3.8"/><circle cx="1433.4" cy="471.3" r="3.8"/><circle cx="1437" cy="471.6" r="3.8"/><circle cx="1426" cy="476.6" r="3.8"/><circle cx="1366.9" cy="477.5" r="3.8"/><circle cx="1447.3" cy="487.2" r="3.8"/><circle cx="1395.9" cy="497.9" r="3.8"/><circle cx="1411.2" cy="512.6" r="3.8"/><circle cx="1408.3" cy="546" r="3.8"/><circle cx="1403.9" cy="560.8" r="3.8"/><circle cx="1393.5" cy="569.7" r="3.8"/><circle cx="1414.2" cy="572.6" r="3.8"/><circle cx="1420.1" cy="572.6" r="3.8"/><circle cx="1423.1" cy="577.7" r="3.8"/><circle cx="1365.4" cy="572.6" r="3.8"/><circle cx="1371.3" cy="577.7" r="3.8"/><circle cx="1345.6" cy="566.7" r="3.8"/><circle cx="1332.3" cy="562.3" r="3.8"/><circle cx="1337.4" cy="549" r="3.8"/><circle cx="1341.8" cy="537.2" r="3.8"/><circle cx="1334.4" cy="512.9" r="3.8"/><circle cx="1325.5" cy="495.8" r="3.8"/><circle cx="1273.2" cy="520" r="3.8"/><circle cx="1254.6" cy="527.4" r="3.8"/><circle cx="1267.9" cy="530.4" r="3.8"/><circle cx="1284.2" cy="530.4" r="3.8"/><circle cx="1242.8" cy="541.6" r="3.8"/><circle cx="1272.4" cy="551.1" r="3.8"/><circle cx="1263.5" cy="554" r="3.8"/><circle cx="1278.3" cy="550.5" r="3.8"/><circle cx="1245.8" cy="565.2" r="3.8"/><circle cx="1211.8" cy="574.1" r="3.8"/><circle cx="1276.8" cy="561.7" r="3.8"/><circle cx="1281.2" cy="584.5" r="3.8"/><circle cx="1282.7" cy="596.3" r="3.8"/><circle cx="1285.7" cy="605.1" r="3.8"/><circle cx="1285.7" cy="617" r="3.8"/><circle cx="1335.3" cy="603.7" r="3.8"/><circle cx="1325.5" cy="615.5" r="3.8"/><circle cx="1326.1" cy="496.3" r="3.8"/><circle cx="1334.5" cy="512.4" r="3.8"/><circle cx="1328.6" cy="507.3" r="3.8"/>
</g>
<g class="s">
<line x1="1358.2" y1="368.4" x2="1332.8" y2="419.2"/>
<line x1="1219.4" y1="397.2" x2="1311.3" y2="442.5"/>
<line x1="1270" y1="473.6" x2="1297.5" y2="476.6"/>
<line x1="1171.9" y1="504.1" x2="1287.1" y2="485.5"/>
<line x1="1358" y1="531.9" x2="1427.5" y2="476.6"/>
<line x1="1242.8" y1="577.7" x2="1305.7" y2="594.8"/>
<line x1="1408.3" y1="596.9" x2="1306.3" y2="622.9"/>
<line x1="1191.1" y1="598.6" x2="1296" y2="601"/>
<line x1="1420.1" y1="616.1" x2="1312.8" y2="628.2"/>
<line x1="1429" y1="631.1" x2="1306.3" y2="633.2"/>
<line x1="1234.5" y1="640.6" x2="1304.9" y2="613.4"/>
</g>
<text class="lb" x="1329.29" y="367.6">DL-valine</text>
<text class="lb" x="1107.55" y="396.8">1-oleoyl-sn-glycero-3-phosphocholine</text>
<text class="lb" x="1103.45" y="486.6">1-palmitoyl-2-arachidonoyl-sn-glycero-3-phosphocholine</text>
<text class="lb" x="1108.16" y="516.8">Ursodeoxycholic acid</text>
<text class="lb" x="1188.16" y="544.6">1-o-hexadecyl-2-o-acetyl-sn-glyceryl-3-phosphorylcholine</text>
<text class="lb" x="1121.35" y="577.7">1-palmitoyl-sn-glycero-3-phosphocholine</text>
<text class="lb" x="1337.4" y="596.9">Glycerophosphocholine</text>
<text class="lb" x="1116.58" y="612.5">Taurochenodeoxycholate</text>
<text class="lb" x="1397.82" y="615.5">Leucine</text>
<text class="lb" x="1363.43" y="644.7">Glycodeoxycholic acid</text>
<text class="lb" x="1110.07" y="653.9">1-hexadecyl-sn-glycero-3-phosphocholine</text>
<rect class="fr" x="1099.4" y="74.5" width="447.2" height="588.2"/>
<g class="t">
<line x1="1121.2" y1="662.7" x2="1121.2" y2="668.7"/>
<line x1="1214.2" y1="662.7" x2="1214.2" y2="668.7"/>
<line x1="1307.2" y1="662.7" x2="1307.2" y2="668.7"/>
<line x1="1400.2" y1="662.7" x2="1400.2" y2="668.7"/>
<line x1="1493.2" y1="662.7" x2="1493.2" y2="668.7"/>
<line x1="1093.4" y1="640.1" x2="1099.4" y2="640.1"/>
<line x1="1093.4" y1="504.3" x2="1099.4" y2="504.3"/>
<line x1="1093.4" y1="368.5" x2="1099.4" y2="368.5"/>
<line x1="1093.4" y1="232.8" x2="1099.4" y2="232.8"/>
<line x1="1093.4" y1="97" x2="1099.4" y2="97"/>
</g>
<text class="tk" text-anchor="middle" x="1121.4" y="683.9">-6</text>
<text class="tk" text-anchor="middle" x="1214.4" y="683.9">-3</text>
<text class="tk" text-anchor="middle" x="1307.4" y="683.9">0</text>
<text class="tk" text-anchor="middle" x="1400.4" y="683.9">3</text>
<text class="tk" text-anchor="middle" x="1493.4" y="683.9">6</text>
<text class="tk" text-anchor="end" x="1089.8" y="645.5">0</text>
<text class="tk" text-anchor="end" x="1089.8" y="509.7">1</text>
<text class="tk" text-anchor="end" x="1089.8" y="373.9">2</text>
<text class="tk" text-anchor="end" x="1089.8" y="238.2">3</text>
<text class="tk" text-anchor="end" x="1089.8" y="102.4">4</text>
<text class="ax" x="1323" y="714.1">log2(FC)</text>
<text class="ax" transform="translate(1064.1 369) rotate(-90)">-log10(p value)</text>
</g>
<g>
<circle cx="1579.7" cy="85.8" r="5.55" fill="#222c6e"/>
<text class="lg" transform="translate(1602.1 90.3) scale(1 .92)">Up</text>
<circle cx="1579.7" cy="107.1" r="5.55" fill="#d81e26"/>
<text class="lg" transform="translate(1602.1 111.5) scale(1 .92)">Down</text>
<circle cx="1579.7" cy="128.4" r="5.55" fill="#999999"/>
<text class="lg" transform="translate(1602.1 132.7) scale(1 .92)">No significant difference</text>
</g>
</svg></body></html>
